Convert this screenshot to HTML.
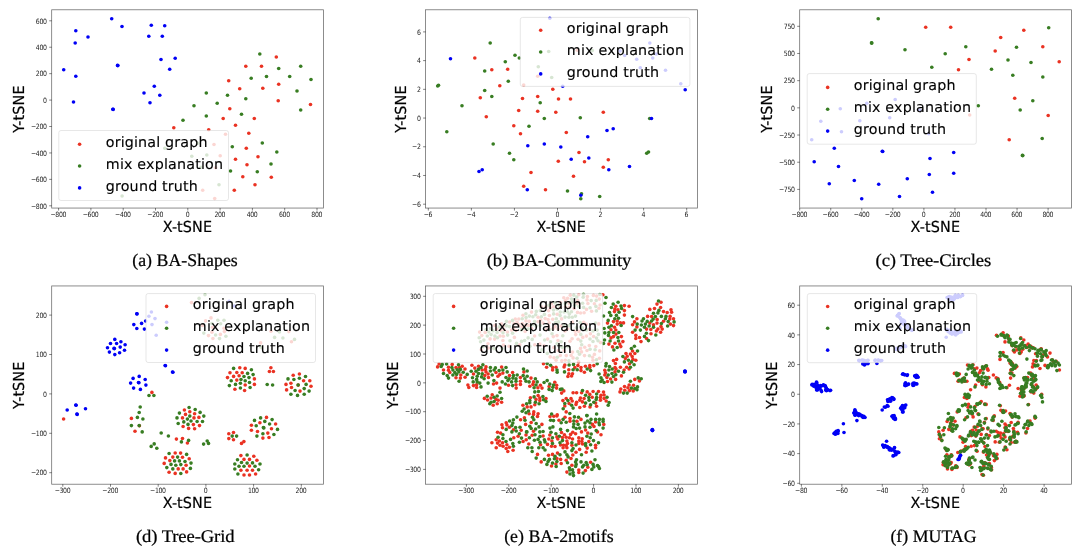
<!DOCTYPE html>
<html lang="en">
<head>
<meta charset="utf-8">
<title>t-SNE visualisation of graph explanations</title>
<style>
html,body{margin:0;padding:0;background:#fff;}
body{width:1080px;height:552px;overflow:hidden;}
svg{display:block;}
text{font-family:"DejaVu Sans","Liberation Sans",sans-serif;fill:#000;text-rendering:geometricPrecision;}
text.tick{fill:#222;letter-spacing:-27.5px;}
text.lab{letter-spacing:-5.00px;stroke:#000;stroke-width:10.00px;}
text.leg{stroke:#000;stroke-width:6.00px;}
text.cap{font-family:"Liberation Serif","DejaVu Serif",serif;fill:#000;stroke:#000;stroke-width:12.00px;}
</style>
</head>
<body>
<svg width="1080" height="552" viewBox="0 0 1080 552" role="img" aria-label="t-SNE scatter plots">
<defs><filter id="soft" filterUnits="userSpaceOnUse" x="0" y="0" width="1080" height="552"><feGaussianBlur stdDeviation="0.35"/></filter></defs>
<rect width="1080" height="552" fill="#fff"/>
<g class="panel" id="panel-a">
<g filter="url(#soft)">
<g fill="#EA3323">
<circle cx="276.3" cy="57.0" r="1.8"/><circle cx="245.8" cy="66.2" r="1.8"/><circle cx="261.5" cy="66.2" r="1.8"/><circle cx="228.7" cy="80.7" r="1.8"/><circle cx="278.7" cy="84.3" r="1.8"/><circle cx="239.7" cy="88.7" r="1.8"/><circle cx="262.8" cy="88.2" r="1.8"/><circle cx="278.2" cy="100.8" r="1.8"/><circle cx="310.5" cy="104.5" r="1.8"/><circle cx="229.8" cy="108.7" r="1.8"/><circle cx="223.2" cy="118.5" r="1.8"/><circle cx="254.3" cy="118.5" r="1.8"/><circle cx="235.5" cy="125.2" r="1.8"/><circle cx="173.8" cy="127.7" r="1.8"/><circle cx="208.7" cy="129.7" r="1.8"/><circle cx="248.8" cy="133.2" r="1.8"/><circle cx="225.5" cy="134.3" r="1.8"/><circle cx="214.0" cy="144.5" r="1.8"/><circle cx="246.3" cy="148.2" r="1.8"/><circle cx="220.2" cy="155.7" r="1.8"/><circle cx="258.0" cy="156.8" r="1.8"/><circle cx="235.5" cy="159.2" r="1.8"/><circle cx="247.0" cy="164.7" r="1.8"/><circle cx="215.7" cy="167.7" r="1.8"/><circle cx="242.8" cy="176.8" r="1.8"/><circle cx="271.3" cy="177.3" r="1.8"/><circle cx="255.0" cy="184.8" r="1.8"/><circle cx="234.3" cy="190.3" r="1.8"/><circle cx="202.7" cy="190.3" r="1.8"/><circle cx="214.7" cy="198.5" r="1.8"/>
</g>
<g fill="#377D22">
<circle cx="259.8" cy="54.0" r="1.8"/><circle cx="278.7" cy="68.5" r="1.8"/><circle cx="300.7" cy="66.2" r="1.8"/><circle cx="251.2" cy="78.3" r="1.8"/><circle cx="266.5" cy="76.5" r="1.8"/><circle cx="289.7" cy="76.5" r="1.8"/><circle cx="311.0" cy="79.5" r="1.8"/><circle cx="297.0" cy="91.0" r="1.8"/><circle cx="206.3" cy="93.0" r="1.8"/><circle cx="227.5" cy="95.3" r="1.8"/><circle cx="245.8" cy="98.8" r="1.8"/><circle cx="300.7" cy="110.0" r="1.8"/><circle cx="194.0" cy="105.7" r="1.8"/><circle cx="217.2" cy="103.2" r="1.8"/><circle cx="241.5" cy="114.2" r="1.8"/><circle cx="206.3" cy="116.0" r="1.8"/><circle cx="183.0" cy="120.3" r="1.8"/><circle cx="262.3" cy="143.0" r="1.8"/><circle cx="164.8" cy="148.2" r="1.8"/><circle cx="197.7" cy="143.3" r="1.8"/><circle cx="232.3" cy="146.7" r="1.8"/><circle cx="276.8" cy="152.0" r="1.8"/><circle cx="191.8" cy="156.2" r="1.8"/><circle cx="206.8" cy="155.0" r="1.8"/><circle cx="271.0" cy="164.0" r="1.8"/><circle cx="201.0" cy="167.3" r="1.8"/><circle cx="230.5" cy="171.0" r="1.8"/><circle cx="257.3" cy="171.8" r="1.8"/><circle cx="219.0" cy="184.8" r="1.8"/><circle cx="122.1" cy="196.0" r="1.8"/>
</g>
<g fill="#0000F5">
<circle cx="111.7" cy="18.7" r="1.8"/><circle cx="122.0" cy="26.5" r="1.8"/><circle cx="75.8" cy="30.8" r="1.8"/><circle cx="88.0" cy="37.0" r="1.8"/><circle cx="75.2" cy="43.0" r="1.8"/><circle cx="151.3" cy="25.3" r="1.8"/><circle cx="164.7" cy="25.8" r="1.8"/><circle cx="148.8" cy="36.3" r="1.8"/><circle cx="162.3" cy="36.3" r="1.8"/><circle cx="161.0" cy="59.5" r="1.8"/><circle cx="175.2" cy="58.2" r="1.8"/><circle cx="117.5" cy="65.4" r="1.8"/><circle cx="117.9" cy="65.6" r="1.8"/><circle cx="169.7" cy="69.2" r="1.8"/><circle cx="63.7" cy="69.8" r="1.8"/><circle cx="75.8" cy="76.3" r="1.8"/><circle cx="154.3" cy="86.2" r="1.8"/><circle cx="144.0" cy="93.0" r="1.8"/><circle cx="159.8" cy="95.3" r="1.8"/><circle cx="73.5" cy="102.0" r="1.8"/><circle cx="112.8" cy="109.2" r="1.8"/><circle cx="113.2" cy="109.4" r="1.8"/><circle cx="150.0" cy="102.7" r="1.8"/>
</g>
</g>
<rect x="51.7" y="9.8" width="271.80" height="198.25" fill="none" stroke="#000" stroke-opacity="0.6" stroke-width="0.75"/>
<path d="M58.6 208.05v2.5M90.9 208.05v2.5M123.2 208.05v2.5M155.5 208.05v2.5M187.8 208.05v2.5M220.1 208.05v2.5M252.4 208.05v2.5M284.7 208.05v2.5M317.0 208.05v2.5M51.7 205.8h-2.5M51.7 179.37h-2.5M51.7 152.94h-2.5M51.7 126.51h-2.5M51.7 100.09h-2.5M51.7 73.66h-2.5M51.7 47.23h-2.5M51.7 20.8h-2.5" stroke="#000" stroke-opacity="0.65" stroke-width="0.75" fill="none"/>
<text class="tick" transform="translate(58.27 217.20) scale(0.01700 0.02000)" text-anchor="middle" font-size="375.00">−800</text>
<text class="tick" transform="translate(90.57 217.20) scale(0.01700 0.02000)" text-anchor="middle" font-size="375.00">−600</text>
<text class="tick" transform="translate(122.87 217.20) scale(0.01700 0.02000)" text-anchor="middle" font-size="375.00">−400</text>
<text class="tick" transform="translate(155.17 217.20) scale(0.01700 0.02000)" text-anchor="middle" font-size="375.00">−200</text>
<text class="tick" transform="translate(187.47 217.20) scale(0.01700 0.02000)" text-anchor="middle" font-size="375.00">0</text>
<text class="tick" transform="translate(219.77 217.20) scale(0.01700 0.02000)" text-anchor="middle" font-size="375.00">200</text>
<text class="tick" transform="translate(252.07 217.20) scale(0.01700 0.02000)" text-anchor="middle" font-size="375.00">400</text>
<text class="tick" transform="translate(284.37 217.20) scale(0.01700 0.02000)" text-anchor="middle" font-size="375.00">600</text>
<text class="tick" transform="translate(316.67 217.20) scale(0.01700 0.02000)" text-anchor="middle" font-size="375.00">800</text>
<text class="tick" transform="translate(46.63 208.50) scale(0.01700 0.02000)" text-anchor="end" font-size="375.00">−800</text>
<text class="tick" transform="translate(46.63 182.07) scale(0.01700 0.02000)" text-anchor="end" font-size="375.00">−600</text>
<text class="tick" transform="translate(46.63 155.64) scale(0.01700 0.02000)" text-anchor="end" font-size="375.00">−400</text>
<text class="tick" transform="translate(46.63 129.21) scale(0.01700 0.02000)" text-anchor="end" font-size="375.00">−200</text>
<text class="tick" transform="translate(46.63 102.79) scale(0.01700 0.02000)" text-anchor="end" font-size="375.00">0</text>
<text class="tick" transform="translate(46.63 76.36) scale(0.01700 0.02000)" text-anchor="end" font-size="375.00">200</text>
<text class="tick" transform="translate(46.63 49.93) scale(0.01700 0.02000)" text-anchor="end" font-size="375.00">400</text>
<text class="tick" transform="translate(46.63 23.50) scale(0.01700 0.02000)" text-anchor="end" font-size="375.00">600</text>
<text class="lab" transform="translate(187.40 231.95) scale(0.01900 0.02000)" text-anchor="middle" font-size="775.00">X-tSNE</text>
<text class="lab" transform="translate(23.90 109.13) rotate(-90) scale(0.01900 0.02000)" text-anchor="middle" font-size="775.00">Y-tSNE</text>
<rect x="58.8" y="130.5" width="169.70" height="70.00" rx="2.2" fill="#fff" fill-opacity="0.8" stroke="#ccc" stroke-opacity="0.8" stroke-width="0.6"/>
<circle cx="79.60" cy="144.20" r="1.8" fill="#EA3323"/>
<text class="leg" transform="translate(105.70 147.15) scale(0.02000 0.02000)" font-size="731.00">original graph</text>
<circle cx="79.60" cy="166.05" r="1.8" fill="#377D22"/>
<text class="leg" transform="translate(105.70 169.00) scale(0.02000 0.02000)" font-size="731.00">mix explanation</text>
<circle cx="79.60" cy="187.90" r="1.8" fill="#0000F5"/>
<text class="leg" transform="translate(105.70 190.85) scale(0.02000 0.02000)" font-size="731.00">ground truth</text>
<text class="cap" transform="translate(132.20 265.50) scale(0.01962 0.02000)" font-size="910.00">(a) BA-Shapes</text>
</g>
<g class="panel" id="panel-b">
<g filter="url(#soft)">
<g fill="#EA3323">
<circle cx="474.8" cy="58.0" r="1.8"/><circle cx="577.3" cy="50.2" r="1.8"/><circle cx="491.8" cy="69.8" r="1.8"/><circle cx="507.7" cy="69.2" r="1.8"/><circle cx="537.7" cy="76.3" r="1.8"/><circle cx="499.8" cy="85.7" r="1.8"/><circle cx="523.7" cy="85.0" r="1.8"/><circle cx="552.8" cy="89.3" r="1.8"/><circle cx="480.3" cy="97.8" r="1.8"/><circle cx="522.5" cy="98.5" r="1.8"/><circle cx="537.7" cy="96.5" r="1.8"/><circle cx="558.5" cy="99.0" r="1.8"/><circle cx="570.5" cy="99.0" r="1.8"/><circle cx="518.7" cy="110.5" r="1.8"/><circle cx="537.7" cy="111.2" r="1.8"/><circle cx="555.8" cy="112.3" r="1.8"/><circle cx="603.3" cy="112.3" r="1.8"/><circle cx="486.3" cy="116.7" r="1.8"/><circle cx="513.8" cy="125.7" r="1.8"/><circle cx="520.5" cy="133.7" r="1.8"/><circle cx="566.3" cy="132.5" r="1.8"/><circle cx="579.0" cy="152.5" r="1.8"/><circle cx="558.3" cy="161.2" r="1.8"/><circle cx="584.5" cy="161.7" r="1.8"/><circle cx="603.3" cy="167.2" r="1.8"/><circle cx="531.0" cy="172.5" r="1.8"/><circle cx="573.5" cy="176.2" r="1.8"/><circle cx="608.3" cy="159.8" r="1.8"/><circle cx="523.7" cy="186.2" r="1.8"/><circle cx="545.5" cy="189.8" r="1.8"/>
</g>
<g fill="#377D22">
<circle cx="490.2" cy="43.0" r="1.8"/><circle cx="515.0" cy="55.2" r="1.8"/><circle cx="519.3" cy="58.0" r="1.8"/><circle cx="505.3" cy="61.7" r="1.8"/><circle cx="548.7" cy="51.5" r="1.8"/><circle cx="592.3" cy="50.5" r="1.8"/><circle cx="484.7" cy="71.0" r="1.8"/><circle cx="538.3" cy="66.7" r="1.8"/><circle cx="551.7" cy="77.5" r="1.8"/><circle cx="508.3" cy="81.3" r="1.8"/><circle cx="437.7" cy="86.0" r="1.8"/><circle cx="438.5" cy="85.3" r="1.8"/><circle cx="484.7" cy="90.5" r="1.8"/><circle cx="491.8" cy="96.5" r="1.8"/><circle cx="540.2" cy="102.7" r="1.8"/><circle cx="462.0" cy="105.7" r="1.8"/><circle cx="544.3" cy="118.5" r="1.8"/><circle cx="580.3" cy="117.8" r="1.8"/><circle cx="529.0" cy="126.3" r="1.8"/><circle cx="446.8" cy="131.8" r="1.8"/><circle cx="493.2" cy="144.0" r="1.8"/><circle cx="509.5" cy="153.2" r="1.8"/><circle cx="513.8" cy="159.8" r="1.8"/><circle cx="649.7" cy="118.5" r="1.8"/><circle cx="646.7" cy="153.2" r="1.8"/><circle cx="648.5" cy="152.0" r="1.8"/><circle cx="567.5" cy="191.0" r="1.8"/><circle cx="581.5" cy="193.8" r="1.8"/><circle cx="580.8" cy="198.8" r="1.8"/><circle cx="599.7" cy="196.5" r="1.8"/>
</g>
<g fill="#0000F5">
<circle cx="549.8" cy="18.3" r="1.8"/><circle cx="450.5" cy="58.7" r="1.8"/><circle cx="562.7" cy="86.3" r="1.8"/><circle cx="649.8" cy="43.0" r="1.8"/><circle cx="620.0" cy="51.0" r="1.8"/><circle cx="624.7" cy="55.5" r="1.8"/><circle cx="636.7" cy="59.3" r="1.8"/><circle cx="652.7" cy="58.0" r="1.8"/><circle cx="656.2" cy="54.0" r="1.8"/><circle cx="640.3" cy="67.7" r="1.8"/><circle cx="665.5" cy="70.3" r="1.8"/><circle cx="680.8" cy="83.7" r="1.8"/><circle cx="685.2" cy="89.8" r="1.8"/><circle cx="587.7" cy="136.8" r="1.8"/><circle cx="527.8" cy="145.8" r="1.8"/><circle cx="544.3" cy="144.0" r="1.8"/><circle cx="560.8" cy="147.0" r="1.8"/><circle cx="571.2" cy="159.2" r="1.8"/><circle cx="588.8" cy="158.0" r="1.8"/><circle cx="482.2" cy="169.7" r="1.8"/><circle cx="479.0" cy="171.5" r="1.8"/><circle cx="651.5" cy="118.5" r="1.8"/><circle cx="607.0" cy="130.5" r="1.8"/><circle cx="613.2" cy="128.8" r="1.8"/><circle cx="608.8" cy="169.7" r="1.8"/><circle cx="629.5" cy="166.5" r="1.8"/><circle cx="527.3" cy="189.8" r="1.8"/><circle cx="580.8" cy="195.3" r="1.8"/>
</g>
</g>
<rect x="425.6" y="9.8" width="271.80" height="198.25" fill="none" stroke="#000" stroke-opacity="0.6" stroke-width="0.75"/>
<path d="M428.3 208.05v2.5M471.37 208.05v2.5M514.43 208.05v2.5M557.5 208.05v2.5M600.57 208.05v2.5M643.63 208.05v2.5M686.7 208.05v2.5M425.6 204.2h-2.5M425.6 175.48h-2.5M425.6 146.77h-2.5M425.6 118.05h-2.5M425.6 89.33h-2.5M425.6 60.62h-2.5M425.6 31.9h-2.5" stroke="#000" stroke-opacity="0.65" stroke-width="0.75" fill="none"/>
<text class="tick" transform="translate(427.97 217.20) scale(0.01700 0.02000)" text-anchor="middle" font-size="375.00">−6</text>
<text class="tick" transform="translate(471.04 217.20) scale(0.01700 0.02000)" text-anchor="middle" font-size="375.00">−4</text>
<text class="tick" transform="translate(514.10 217.20) scale(0.01700 0.02000)" text-anchor="middle" font-size="375.00">−2</text>
<text class="tick" transform="translate(557.17 217.20) scale(0.01700 0.02000)" text-anchor="middle" font-size="375.00">0</text>
<text class="tick" transform="translate(600.24 217.20) scale(0.01700 0.02000)" text-anchor="middle" font-size="375.00">2</text>
<text class="tick" transform="translate(643.30 217.20) scale(0.01700 0.02000)" text-anchor="middle" font-size="375.00">4</text>
<text class="tick" transform="translate(686.37 217.20) scale(0.01700 0.02000)" text-anchor="middle" font-size="375.00">6</text>
<text class="tick" transform="translate(420.53 206.90) scale(0.01700 0.02000)" text-anchor="end" font-size="375.00">−6</text>
<text class="tick" transform="translate(420.53 178.18) scale(0.01700 0.02000)" text-anchor="end" font-size="375.00">−4</text>
<text class="tick" transform="translate(420.53 149.47) scale(0.01700 0.02000)" text-anchor="end" font-size="375.00">−2</text>
<text class="tick" transform="translate(420.53 120.75) scale(0.01700 0.02000)" text-anchor="end" font-size="375.00">0</text>
<text class="tick" transform="translate(420.53 92.03) scale(0.01700 0.02000)" text-anchor="end" font-size="375.00">2</text>
<text class="tick" transform="translate(420.53 63.32) scale(0.01700 0.02000)" text-anchor="end" font-size="375.00">4</text>
<text class="tick" transform="translate(420.53 34.60) scale(0.01700 0.02000)" text-anchor="end" font-size="375.00">6</text>
<text class="lab" transform="translate(561.30 231.95) scale(0.01900 0.02000)" text-anchor="middle" font-size="775.00">X-tSNE</text>
<text class="lab" transform="translate(405.90 109.13) rotate(-90) scale(0.01900 0.02000)" text-anchor="middle" font-size="775.00">Y-tSNE</text>
<rect x="520.3" y="17.4" width="169.60" height="69.00" rx="2.2" fill="#fff" fill-opacity="0.8" stroke="#ccc" stroke-opacity="0.8" stroke-width="0.6"/>
<circle cx="540.70" cy="30.20" r="1.8" fill="#EA3323"/>
<text class="leg" transform="translate(566.80 33.15) scale(0.02000 0.02000)" font-size="731.00">original graph</text>
<circle cx="540.70" cy="52.05" r="1.8" fill="#377D22"/>
<text class="leg" transform="translate(566.80 55.00) scale(0.02000 0.02000)" font-size="731.00">mix explanation</text>
<circle cx="540.70" cy="73.90" r="1.8" fill="#0000F5"/>
<text class="leg" transform="translate(566.80 76.85) scale(0.02000 0.02000)" font-size="731.00">ground truth</text>
<text class="cap" transform="translate(486.70 265.50) scale(0.02004 0.02000)" font-size="910.00">(b) BA-Community</text>
</g>
<g class="panel" id="panel-c">
<g filter="url(#soft)">
<g fill="#EA3323">
<circle cx="925.7" cy="27.2" r="1.8"/><circle cx="950.7" cy="27.2" r="1.8"/><circle cx="969.0" cy="59.5" r="1.8"/><circle cx="958.5" cy="69.8" r="1.8"/><circle cx="1023.8" cy="30.2" r="1.8"/><circle cx="1000.7" cy="37.5" r="1.8"/><circle cx="1042.8" cy="46.7" r="1.8"/><circle cx="995.2" cy="51.0" r="1.8"/><circle cx="1059.2" cy="61.8" r="1.8"/><circle cx="969.7" cy="115.0" r="1.8"/><circle cx="1014.7" cy="98.3" r="1.8"/><circle cx="1048.2" cy="115.5" r="1.8"/><circle cx="1009.2" cy="139.7" r="1.8"/>
</g>
<g fill="#377D22">
<circle cx="878.2" cy="18.7" r="1.8"/><circle cx="871.5" cy="42.9" r="1.8"/><circle cx="871.8" cy="43.1" r="1.8"/><circle cx="905.0" cy="49.7" r="1.8"/><circle cx="965.8" cy="46.7" r="1.8"/><circle cx="945.2" cy="53.8" r="1.8"/><circle cx="931.8" cy="67.3" r="1.8"/><circle cx="1048.7" cy="27.8" r="1.8"/><circle cx="1016.5" cy="47.3" r="1.8"/><circle cx="1008.0" cy="60.0" r="1.8"/><circle cx="1031.0" cy="62.5" r="1.8"/><circle cx="991.5" cy="69.2" r="1.8"/><circle cx="1012.8" cy="75.3" r="1.8"/><circle cx="1042.8" cy="77.0" r="1.8"/><circle cx="978.3" cy="105.8" r="1.8"/><circle cx="1032.8" cy="100.8" r="1.8"/><circle cx="1020.2" cy="110.0" r="1.8"/><circle cx="1042.2" cy="138.5" r="1.8"/><circle cx="1022.4" cy="155.4" r="1.8"/><circle cx="1022.8" cy="155.6" r="1.8"/>
</g>
<g fill="#0000F5">
<circle cx="895.2" cy="99.5" r="1.8"/><circle cx="866.8" cy="103.2" r="1.8"/><circle cx="840.3" cy="108.7" r="1.8"/><circle cx="919.7" cy="110.0" r="1.8"/><circle cx="820.8" cy="121.3" r="1.8"/><circle cx="859.8" cy="120.8" r="1.8"/><circle cx="889.7" cy="117.8" r="1.8"/><circle cx="841.5" cy="131.8" r="1.8"/><circle cx="928.8" cy="133.7" r="1.8"/><circle cx="811.7" cy="139.7" r="1.8"/><circle cx="834.3" cy="148.3" r="1.8"/><circle cx="882.3" cy="151.2" r="1.8"/><circle cx="882.7" cy="151.5" r="1.8"/><circle cx="953.7" cy="152.5" r="1.8"/><circle cx="930.0" cy="158.5" r="1.8"/><circle cx="814.2" cy="161.7" r="1.8"/><circle cx="838.5" cy="166.5" r="1.8"/><circle cx="929.3" cy="174.5" r="1.8"/><circle cx="953.7" cy="173.2" r="1.8"/><circle cx="907.3" cy="178.7" r="1.8"/><circle cx="854.3" cy="180.5" r="1.8"/><circle cx="829.3" cy="183.7" r="1.8"/><circle cx="878.7" cy="184.2" r="1.8"/><circle cx="861.7" cy="198.8" r="1.8"/><circle cx="899.5" cy="196.5" r="1.8"/><circle cx="932.5" cy="192.2" r="1.8"/>
</g>
</g>
<rect x="799.7" y="9.8" width="271.70" height="198.25" fill="none" stroke="#000" stroke-opacity="0.6" stroke-width="0.75"/>
<path d="M799.7 208.05v2.5M830.75 208.05v2.5M861.8 208.05v2.5M892.85 208.05v2.5M923.9 208.05v2.5M954.95 208.05v2.5M986.0 208.05v2.5M1017.05 208.05v2.5M1048.1 208.05v2.5M799.7 189.4h-2.5M799.7 162.22h-2.5M799.7 135.03h-2.5M799.7 107.85h-2.5M799.7 80.67h-2.5M799.7 53.48h-2.5M799.7 26.3h-2.5" stroke="#000" stroke-opacity="0.65" stroke-width="0.75" fill="none"/>
<text class="tick" transform="translate(799.37 217.20) scale(0.01700 0.02000)" text-anchor="middle" font-size="375.00">−800</text>
<text class="tick" transform="translate(830.42 217.20) scale(0.01700 0.02000)" text-anchor="middle" font-size="375.00">−600</text>
<text class="tick" transform="translate(861.47 217.20) scale(0.01700 0.02000)" text-anchor="middle" font-size="375.00">−400</text>
<text class="tick" transform="translate(892.52 217.20) scale(0.01700 0.02000)" text-anchor="middle" font-size="375.00">−200</text>
<text class="tick" transform="translate(923.57 217.20) scale(0.01700 0.02000)" text-anchor="middle" font-size="375.00">0</text>
<text class="tick" transform="translate(954.62 217.20) scale(0.01700 0.02000)" text-anchor="middle" font-size="375.00">200</text>
<text class="tick" transform="translate(985.67 217.20) scale(0.01700 0.02000)" text-anchor="middle" font-size="375.00">400</text>
<text class="tick" transform="translate(1016.72 217.20) scale(0.01700 0.02000)" text-anchor="middle" font-size="375.00">600</text>
<text class="tick" transform="translate(1047.77 217.20) scale(0.01700 0.02000)" text-anchor="middle" font-size="375.00">800</text>
<text class="tick" transform="translate(794.63 192.10) scale(0.01700 0.02000)" text-anchor="end" font-size="375.00">−750</text>
<text class="tick" transform="translate(794.63 164.92) scale(0.01700 0.02000)" text-anchor="end" font-size="375.00">−500</text>
<text class="tick" transform="translate(794.63 137.73) scale(0.01700 0.02000)" text-anchor="end" font-size="375.00">−250</text>
<text class="tick" transform="translate(794.63 110.55) scale(0.01700 0.02000)" text-anchor="end" font-size="375.00">0</text>
<text class="tick" transform="translate(794.63 83.37) scale(0.01700 0.02000)" text-anchor="end" font-size="375.00">250</text>
<text class="tick" transform="translate(794.63 56.18) scale(0.01700 0.02000)" text-anchor="end" font-size="375.00">500</text>
<text class="tick" transform="translate(794.63 29.00) scale(0.01700 0.02000)" text-anchor="end" font-size="375.00">750</text>
<text class="lab" transform="translate(935.35 231.95) scale(0.01900 0.02000)" text-anchor="middle" font-size="775.00">X-tSNE</text>
<text class="lab" transform="translate(772.20 109.13) rotate(-90) scale(0.01900 0.02000)" text-anchor="middle" font-size="775.00">Y-tSNE</text>
<rect x="807.2" y="73.6" width="169.10" height="70.60" rx="2.2" fill="#fff" fill-opacity="0.8" stroke="#ccc" stroke-opacity="0.8" stroke-width="0.6"/>
<circle cx="827.67" cy="87.40" r="1.8" fill="#EA3323"/>
<text class="leg" transform="translate(853.77 90.35) scale(0.02000 0.02000)" font-size="731.00">original graph</text>
<circle cx="827.67" cy="109.25" r="1.8" fill="#377D22"/>
<text class="leg" transform="translate(853.77 112.20) scale(0.02000 0.02000)" font-size="731.00">mix explanation</text>
<circle cx="827.67" cy="131.10" r="1.8" fill="#0000F5"/>
<text class="leg" transform="translate(853.77 134.05) scale(0.02000 0.02000)" font-size="731.00">ground truth</text>
<text class="cap" transform="translate(875.60 265.50) scale(0.02012 0.02000)" font-size="910.00">(c) Tree-Circles</text>
</g>
<g class="panel" id="panel-d">
<g filter="url(#soft)">
<g fill="#EA3323">
<circle cx="151.9" cy="392.4" r="1.8"/><circle cx="63.6" cy="419.0" r="1.8"/><circle cx="131.4" cy="418.4" r="1.8"/><circle cx="139.4" cy="425.8" r="1.8"/><circle cx="191.5" cy="302.6" r="1.8"/><circle cx="211.0" cy="317.9" r="1.8"/><circle cx="205.6" cy="320.9" r="1.8"/><circle cx="202.5" cy="325.5" r="1.8"/><circle cx="212.5" cy="327.2" r="1.8"/><circle cx="224.0" cy="328.2" r="1.8"/><circle cx="211.9" cy="332.2" r="1.8"/><circle cx="224.4" cy="331.6" r="1.8"/><circle cx="208.5" cy="335.6" r="1.8"/><circle cx="220.4" cy="334.4" r="1.8"/><circle cx="212.9" cy="338.5" r="1.8"/><circle cx="271.0" cy="331.2" r="1.8"/><circle cx="288.8" cy="331.6" r="1.8"/><circle cx="291.5" cy="341.8" r="1.8"/><circle cx="260.6" cy="342.9" r="1.8"/><circle cx="239.8" cy="367.8" r="1.8"/><circle cx="245.2" cy="368.4" r="1.8"/><circle cx="230.0" cy="372.8" r="1.8"/><circle cx="236.8" cy="372.5" r="1.8"/><circle cx="242.2" cy="372.8" r="1.8"/><circle cx="233.6" cy="376.4" r="1.8"/><circle cx="239.1" cy="375.8" r="1.8"/><circle cx="227.5" cy="377.6" r="1.8"/><circle cx="254.4" cy="378.9" r="1.8"/><circle cx="236.8" cy="380.1" r="1.8"/><circle cx="245.2" cy="385.0" r="1.8"/><circle cx="254.4" cy="384.4" r="1.8"/><circle cx="234.9" cy="389.2" r="1.8"/><circle cx="244.6" cy="390.5" r="1.8"/><circle cx="270.9" cy="367.8" r="1.8"/><circle cx="269.4" cy="371.5" r="1.8"/><circle cx="273.4" cy="371.5" r="1.8"/><circle cx="299.4" cy="374.0" r="1.8"/><circle cx="293.2" cy="375.2" r="1.8"/><circle cx="303.6" cy="380.8" r="1.8"/><circle cx="309.8" cy="380.8" r="1.8"/><circle cx="286.0" cy="384.4" r="1.8"/><circle cx="290.9" cy="383.2" r="1.8"/><circle cx="298.2" cy="385.1" r="1.8"/><circle cx="311.0" cy="386.2" r="1.8"/><circle cx="291.5" cy="387.5" r="1.8"/><circle cx="286.6" cy="389.9" r="1.8"/><circle cx="300.0" cy="391.1" r="1.8"/><circle cx="184.4" cy="410.0" r="1.8"/><circle cx="189.8" cy="411.8" r="1.8"/><circle cx="185.5" cy="414.4" r="1.8"/><circle cx="194.6" cy="413.8" r="1.8"/><circle cx="182.5" cy="417.9" r="1.8"/><circle cx="194.0" cy="417.9" r="1.8"/><circle cx="198.9" cy="417.4" r="1.8"/><circle cx="193.4" cy="424.6" r="1.8"/><circle cx="183.1" cy="426.5" r="1.8"/><circle cx="199.5" cy="425.6" r="1.8"/><circle cx="188.6" cy="428.4" r="1.8"/><circle cx="194.6" cy="428.8" r="1.8"/><circle cx="266.5" cy="417.4" r="1.8"/><circle cx="259.9" cy="422.8" r="1.8"/><circle cx="275.6" cy="424.0" r="1.8"/><circle cx="251.4" cy="425.2" r="1.8"/><circle cx="271.5" cy="428.8" r="1.8"/><circle cx="251.4" cy="430.2" r="1.8"/><circle cx="257.5" cy="431.5" r="1.8"/><circle cx="267.8" cy="433.1" r="1.8"/><circle cx="262.9" cy="438.1" r="1.8"/><circle cx="269.0" cy="437.5" r="1.8"/><circle cx="233.5" cy="432.5" r="1.8"/><circle cx="228.8" cy="433.8" r="1.8"/><circle cx="228.8" cy="438.6" r="1.8"/><circle cx="233.5" cy="439.8" r="1.8"/><circle cx="243.9" cy="441.6" r="1.8"/><circle cx="241.5" cy="443.4" r="1.8"/><circle cx="176.4" cy="439.1" r="1.8"/><circle cx="182.5" cy="438.5" r="1.8"/><circle cx="187.4" cy="443.0" r="1.8"/><circle cx="175.2" cy="453.0" r="1.8"/><circle cx="180.6" cy="453.1" r="1.8"/><circle cx="165.5" cy="457.9" r="1.8"/><circle cx="172.8" cy="457.1" r="1.8"/><circle cx="182.5" cy="457.2" r="1.8"/><circle cx="189.2" cy="458.8" r="1.8"/><circle cx="169.8" cy="460.6" r="1.8"/><circle cx="164.2" cy="463.4" r="1.8"/><circle cx="186.1" cy="465.2" r="1.8"/><circle cx="178.2" cy="468.9" r="1.8"/><circle cx="183.1" cy="468.9" r="1.8"/><circle cx="169.1" cy="472.2" r="1.8"/><circle cx="175.2" cy="473.4" r="1.8"/><circle cx="186.6" cy="471.9" r="1.8"/><circle cx="240.9" cy="455.6" r="1.8"/><circle cx="253.8" cy="456.2" r="1.8"/><circle cx="244.0" cy="459.4" r="1.8"/><circle cx="249.5" cy="459.4" r="1.8"/><circle cx="256.9" cy="460.2" r="1.8"/><circle cx="249.5" cy="466.0" r="1.8"/><circle cx="240.9" cy="470.2" r="1.8"/><circle cx="247.1" cy="470.2" r="1.8"/><circle cx="252.5" cy="470.2" r="1.8"/><circle cx="244.0" cy="475.0" r="1.8"/><circle cx="249.5" cy="475.0" r="1.8"/><circle cx="255.6" cy="474.0" r="1.8"/><circle cx="135.0" cy="431.2" r="1.8"/>
</g>
<g fill="#377D22">
<circle cx="149.0" cy="395.5" r="1.8"/><circle cx="153.9" cy="395.5" r="1.8"/><circle cx="140.2" cy="407.0" r="1.8"/><circle cx="139.2" cy="412.5" r="1.8"/><circle cx="137.4" cy="417.4" r="1.8"/><circle cx="142.9" cy="419.0" r="1.8"/><circle cx="131.4" cy="425.6" r="1.8"/><circle cx="139.2" cy="425.6" r="1.8"/><circle cx="205.0" cy="294.8" r="1.8"/><circle cx="199.1" cy="298.4" r="1.8"/><circle cx="217.8" cy="320.2" r="1.8"/><circle cx="224.0" cy="320.2" r="1.8"/><circle cx="211.9" cy="323.5" r="1.8"/><circle cx="220.6" cy="323.8" r="1.8"/><circle cx="203.8" cy="333.1" r="1.8"/><circle cx="215.6" cy="335.0" r="1.8"/><circle cx="225.9" cy="336.2" r="1.8"/><circle cx="219.5" cy="338.6" r="1.8"/><circle cx="279.4" cy="332.0" r="1.8"/><circle cx="274.6" cy="337.4" r="1.8"/><circle cx="282.9" cy="338.0" r="1.8"/><circle cx="294.5" cy="339.4" r="1.8"/><circle cx="261.0" cy="347.2" r="1.8"/><circle cx="233.6" cy="368.4" r="1.8"/><circle cx="251.4" cy="369.8" r="1.8"/><circle cx="247.6" cy="373.4" r="1.8"/><circle cx="253.1" cy="374.6" r="1.8"/><circle cx="244.0" cy="376.5" r="1.8"/><circle cx="249.0" cy="377.6" r="1.8"/><circle cx="231.2" cy="380.8" r="1.8"/><circle cx="241.0" cy="379.5" r="1.8"/><circle cx="245.2" cy="380.8" r="1.8"/><circle cx="249.5" cy="382.5" r="1.8"/><circle cx="235.5" cy="384.4" r="1.8"/><circle cx="240.4" cy="383.2" r="1.8"/><circle cx="229.4" cy="385.6" r="1.8"/><circle cx="240.4" cy="388.0" r="1.8"/><circle cx="250.1" cy="387.5" r="1.8"/><circle cx="267.2" cy="384.5" r="1.8"/><circle cx="272.6" cy="385.0" r="1.8"/><circle cx="305.5" cy="376.5" r="1.8"/><circle cx="288.0" cy="378.9" r="1.8"/><circle cx="293.9" cy="379.5" r="1.8"/><circle cx="299.4" cy="378.2" r="1.8"/><circle cx="298.1" cy="385.0" r="1.8"/><circle cx="306.1" cy="384.4" r="1.8"/><circle cx="304.2" cy="388.6" r="1.8"/><circle cx="295.1" cy="390.5" r="1.8"/><circle cx="309.1" cy="391.1" r="1.8"/><circle cx="290.9" cy="394.2" r="1.8"/><circle cx="297.5" cy="395.4" r="1.8"/><circle cx="304.2" cy="394.2" r="1.8"/><circle cx="189.1" cy="407.5" r="1.8"/><circle cx="195.2" cy="409.5" r="1.8"/><circle cx="179.4" cy="413.1" r="1.8"/><circle cx="200.1" cy="412.4" r="1.8"/><circle cx="189.8" cy="416.1" r="1.8"/><circle cx="203.8" cy="416.1" r="1.8"/><circle cx="177.0" cy="417.9" r="1.8"/><circle cx="187.4" cy="419.1" r="1.8"/><circle cx="183.8" cy="421.9" r="1.8"/><circle cx="191.0" cy="421.0" r="1.8"/><circle cx="197.1" cy="421.5" r="1.8"/><circle cx="202.5" cy="421.5" r="1.8"/><circle cx="178.2" cy="423.5" r="1.8"/><circle cx="188.0" cy="424.4" r="1.8"/><circle cx="260.6" cy="417.9" r="1.8"/><circle cx="272.1" cy="419.6" r="1.8"/><circle cx="254.5" cy="420.4" r="1.8"/><circle cx="264.8" cy="421.4" r="1.8"/><circle cx="269.6" cy="424.0" r="1.8"/><circle cx="256.2" cy="425.8" r="1.8"/><circle cx="263.4" cy="427.6" r="1.8"/><circle cx="263.8" cy="427.9" r="1.8"/><circle cx="277.5" cy="429.4" r="1.8"/><circle cx="262.9" cy="433.8" r="1.8"/><circle cx="273.9" cy="434.5" r="1.8"/><circle cx="256.9" cy="436.1" r="1.8"/><circle cx="232.2" cy="436.1" r="1.8"/><circle cx="236.6" cy="436.1" r="1.8"/><circle cx="161.2" cy="433.0" r="1.8"/><circle cx="168.4" cy="436.0" r="1.8"/><circle cx="188.6" cy="440.4" r="1.8"/><circle cx="181.4" cy="441.9" r="1.8"/><circle cx="207.2" cy="441.0" r="1.8"/><circle cx="208.5" cy="443.4" r="1.8"/><circle cx="203.6" cy="444.1" r="1.8"/><circle cx="169.1" cy="453.5" r="1.8"/><circle cx="186.6" cy="454.4" r="1.8"/><circle cx="177.6" cy="457.1" r="1.8"/><circle cx="174.6" cy="460.9" r="1.8"/><circle cx="179.4" cy="460.9" r="1.8"/><circle cx="185.0" cy="461.5" r="1.8"/><circle cx="191.0" cy="463.1" r="1.8"/><circle cx="171.0" cy="464.4" r="1.8"/><circle cx="175.8" cy="465.2" r="1.8"/><circle cx="180.8" cy="464.6" r="1.8"/><circle cx="166.8" cy="467.6" r="1.8"/><circle cx="172.8" cy="468.9" r="1.8"/><circle cx="190.4" cy="468.4" r="1.8"/><circle cx="180.8" cy="473.5" r="1.8"/><circle cx="247.1" cy="455.0" r="1.8"/><circle cx="237.5" cy="459.8" r="1.8"/><circle cx="234.8" cy="464.0" r="1.8"/><circle cx="241.5" cy="462.5" r="1.8"/><circle cx="247.1" cy="463.1" r="1.8"/><circle cx="252.5" cy="462.9" r="1.8"/><circle cx="260.0" cy="464.0" r="1.8"/><circle cx="239.0" cy="466.2" r="1.8"/><circle cx="244.0" cy="466.2" r="1.8"/><circle cx="255.0" cy="466.2" r="1.8"/><circle cx="234.8" cy="469.0" r="1.8"/><circle cx="258.6" cy="469.8" r="1.8"/><circle cx="237.9" cy="474.0" r="1.8"/><circle cx="142.2" cy="431.9" r="1.8"/><circle cx="154.2" cy="443.9" r="1.8"/><circle cx="151.2" cy="446.4" r="1.8"/><circle cx="156.8" cy="448.2" r="1.8"/>
</g>
<g fill="#0000F5">
<circle cx="136.8" cy="313.8" r="1.8"/><circle cx="137.0" cy="313.9" r="1.8"/><circle cx="133.8" cy="324.6" r="1.8"/><circle cx="141.6" cy="323.4" r="1.8"/><circle cx="145.6" cy="321.0" r="1.8"/><circle cx="136.8" cy="328.5" r="1.8"/><circle cx="144.4" cy="329.1" r="1.8"/><circle cx="151.4" cy="312.0" r="1.8"/><circle cx="148.9" cy="316.2" r="1.8"/><circle cx="155.0" cy="318.6" r="1.8"/><circle cx="152.0" cy="324.6" r="1.8"/><circle cx="166.6" cy="322.2" r="1.8"/><circle cx="156.2" cy="335.2" r="1.8"/><circle cx="114.8" cy="339.4" r="1.8"/><circle cx="110.5" cy="343.5" r="1.8"/><circle cx="116.6" cy="343.5" r="1.8"/><circle cx="120.9" cy="341.8" r="1.8"/><circle cx="107.5" cy="347.8" r="1.8"/><circle cx="114.0" cy="348.4" r="1.8"/><circle cx="114.4" cy="348.6" r="1.8"/><circle cx="120.2" cy="347.1" r="1.8"/><circle cx="125.1" cy="344.8" r="1.8"/><circle cx="109.4" cy="352.1" r="1.8"/><circle cx="114.8" cy="354.6" r="1.8"/><circle cx="119.6" cy="352.8" r="1.8"/><circle cx="124.5" cy="350.2" r="1.8"/><circle cx="165.1" cy="365.5" r="1.8"/><circle cx="165.5" cy="365.8" r="1.8"/><circle cx="172.5" cy="372.0" r="1.8"/><circle cx="172.9" cy="372.2" r="1.8"/><circle cx="133.1" cy="378.4" r="1.8"/><circle cx="139.2" cy="376.4" r="1.8"/><circle cx="145.2" cy="379.5" r="1.8"/><circle cx="130.6" cy="383.1" r="1.8"/><circle cx="138.5" cy="382.5" r="1.8"/><circle cx="138.9" cy="382.8" r="1.8"/><circle cx="145.9" cy="385.1" r="1.8"/><circle cx="133.6" cy="388.1" r="1.8"/><circle cx="140.4" cy="389.4" r="1.8"/><circle cx="75.8" cy="405.0" r="1.8"/><circle cx="76.1" cy="405.2" r="1.8"/><circle cx="67.2" cy="410.0" r="1.8"/><circle cx="85.5" cy="408.8" r="1.8"/><circle cx="76.9" cy="414.1" r="1.8"/><circle cx="77.2" cy="414.4" r="1.8"/><circle cx="229.1" cy="301.2" r="1.8"/><circle cx="234.4" cy="306.0" r="1.8"/>
</g>
</g>
<rect x="51.7" y="285.95" width="271.80" height="198.25" fill="none" stroke="#000" stroke-opacity="0.6" stroke-width="0.75"/>
<path d="M62.8 484.2v2.5M110.5 484.2v2.5M158.2 484.2v2.5M205.9 484.2v2.5M253.6 484.2v2.5M301.3 484.2v2.5M51.7 472.7h-2.5M51.7 433.3h-2.5M51.7 393.9h-2.5M51.7 354.5h-2.5M51.7 315.1h-2.5" stroke="#000" stroke-opacity="0.65" stroke-width="0.75" fill="none"/>
<text class="tick" transform="translate(62.47 493.35) scale(0.01700 0.02000)" text-anchor="middle" font-size="375.00">−300</text>
<text class="tick" transform="translate(110.17 493.35) scale(0.01700 0.02000)" text-anchor="middle" font-size="375.00">−200</text>
<text class="tick" transform="translate(157.87 493.35) scale(0.01700 0.02000)" text-anchor="middle" font-size="375.00">−100</text>
<text class="tick" transform="translate(205.57 493.35) scale(0.01700 0.02000)" text-anchor="middle" font-size="375.00">0</text>
<text class="tick" transform="translate(253.27 493.35) scale(0.01700 0.02000)" text-anchor="middle" font-size="375.00">100</text>
<text class="tick" transform="translate(300.97 493.35) scale(0.01700 0.02000)" text-anchor="middle" font-size="375.00">200</text>
<text class="tick" transform="translate(46.63 475.40) scale(0.01700 0.02000)" text-anchor="end" font-size="375.00">−200</text>
<text class="tick" transform="translate(46.63 436.00) scale(0.01700 0.02000)" text-anchor="end" font-size="375.00">−100</text>
<text class="tick" transform="translate(46.63 396.60) scale(0.01700 0.02000)" text-anchor="end" font-size="375.00">0</text>
<text class="tick" transform="translate(46.63 357.20) scale(0.01700 0.02000)" text-anchor="end" font-size="375.00">100</text>
<text class="tick" transform="translate(46.63 317.80) scale(0.01700 0.02000)" text-anchor="end" font-size="375.00">200</text>
<text class="lab" transform="translate(187.40 508.10) scale(0.01900 0.02000)" text-anchor="middle" font-size="775.00">X-tSNE</text>
<text class="lab" transform="translate(23.90 385.27) rotate(-90) scale(0.01900 0.02000)" text-anchor="middle" font-size="775.00">Y-tSNE</text>
<rect x="146.0" y="293.55" width="169.50" height="68.95" rx="2.2" fill="#fff" fill-opacity="0.8" stroke="#ccc" stroke-opacity="0.8" stroke-width="0.6"/>
<circle cx="166.60" cy="306.40" r="1.8" fill="#EA3323"/>
<text class="leg" transform="translate(192.70 309.35) scale(0.02000 0.02000)" font-size="731.00">original graph</text>
<circle cx="166.60" cy="328.25" r="1.8" fill="#377D22"/>
<text class="leg" transform="translate(192.70 331.20) scale(0.02000 0.02000)" font-size="731.00">mix explanation</text>
<circle cx="166.60" cy="350.10" r="1.8" fill="#0000F5"/>
<text class="leg" transform="translate(192.70 353.05) scale(0.02000 0.02000)" font-size="731.00">ground truth</text>
<text class="cap" transform="translate(135.95 542.30) scale(0.02019 0.02000)" font-size="910.00">(d) Tree-Grid</text>
</g>
<g class="panel" id="panel-e">
<g filter="url(#soft)">
<g fill="#EA3323">
<circle cx="602.9" cy="294.8" r="1.8"/><circle cx="615.8" cy="306.2" r="1.8"/><circle cx="624.4" cy="305.6" r="1.8"/><circle cx="629.1" cy="306.2" r="1.8"/><circle cx="614.8" cy="309.1" r="1.8"/><circle cx="617.9" cy="309.8" r="1.8"/><circle cx="624.4" cy="310.6" r="1.8"/><circle cx="614.5" cy="311.6" r="1.8"/><circle cx="624.4" cy="315.1" r="1.8"/><circle cx="613.5" cy="321.6" r="1.8"/><circle cx="617.2" cy="321.0" r="1.8"/><circle cx="620.4" cy="322.9" r="1.8"/><circle cx="623.5" cy="322.9" r="1.8"/><circle cx="607.5" cy="323.1" r="1.8"/><circle cx="617.2" cy="324.1" r="1.8"/><circle cx="614.5" cy="327.2" r="1.8"/><circle cx="611.0" cy="329.8" r="1.8"/><circle cx="615.8" cy="330.0" r="1.8"/><circle cx="616.0" cy="334.1" r="1.8"/><circle cx="613.5" cy="336.6" r="1.8"/><circle cx="621.4" cy="336.6" r="1.8"/><circle cx="611.0" cy="337.9" r="1.8"/><circle cx="622.9" cy="341.6" r="1.8"/><circle cx="608.9" cy="344.1" r="1.8"/><circle cx="615.0" cy="343.2" r="1.8"/><circle cx="619.8" cy="344.1" r="1.8"/><circle cx="612.5" cy="346.9" r="1.8"/><circle cx="620.8" cy="346.6" r="1.8"/><circle cx="661.0" cy="302.2" r="1.8"/><circle cx="657.0" cy="304.1" r="1.8"/><circle cx="660.6" cy="307.5" r="1.8"/><circle cx="654.5" cy="308.5" r="1.8"/><circle cx="649.8" cy="309.4" r="1.8"/><circle cx="671.0" cy="309.8" r="1.8"/><circle cx="663.5" cy="311.6" r="1.8"/><circle cx="667.2" cy="312.5" r="1.8"/><circle cx="671.6" cy="312.2" r="1.8"/><circle cx="647.6" cy="316.4" r="1.8"/><circle cx="651.6" cy="316.6" r="1.8"/><circle cx="670.1" cy="316.4" r="1.8"/><circle cx="636.9" cy="318.8" r="1.8"/><circle cx="657.2" cy="319.5" r="1.8"/><circle cx="673.5" cy="318.8" r="1.8"/><circle cx="669.8" cy="319.1" r="1.8"/><circle cx="634.5" cy="321.9" r="1.8"/><circle cx="649.8" cy="323.1" r="1.8"/><circle cx="657.0" cy="323.1" r="1.8"/><circle cx="663.5" cy="321.2" r="1.8"/><circle cx="632.6" cy="324.8" r="1.8"/><circle cx="653.5" cy="324.8" r="1.8"/><circle cx="670.4" cy="324.1" r="1.8"/><circle cx="673.5" cy="325.6" r="1.8"/><circle cx="636.9" cy="326.9" r="1.8"/><circle cx="661.0" cy="326.6" r="1.8"/><circle cx="646.6" cy="329.1" r="1.8"/><circle cx="650.8" cy="329.5" r="1.8"/><circle cx="657.9" cy="329.1" r="1.8"/><circle cx="662.2" cy="329.1" r="1.8"/><circle cx="656.4" cy="331.0" r="1.8"/><circle cx="660.6" cy="332.2" r="1.8"/><circle cx="632.6" cy="332.2" r="1.8"/><circle cx="651.0" cy="333.8" r="1.8"/><circle cx="635.8" cy="335.4" r="1.8"/><circle cx="635.8" cy="338.5" r="1.8"/><circle cx="639.5" cy="337.5" r="1.8"/><circle cx="646.6" cy="338.5" r="1.8"/><circle cx="641.0" cy="341.6" r="1.8"/><circle cx="632.5" cy="351.0" r="1.8"/><circle cx="626.0" cy="353.5" r="1.8"/><circle cx="630.4" cy="354.1" r="1.8"/><circle cx="634.8" cy="353.5" r="1.8"/><circle cx="439.1" cy="364.0" r="1.8"/><circle cx="452.2" cy="364.4" r="1.8"/><circle cx="437.6" cy="366.9" r="1.8"/><circle cx="448.5" cy="367.2" r="1.8"/><circle cx="456.0" cy="367.5" r="1.8"/><circle cx="462.2" cy="366.2" r="1.8"/><circle cx="459.5" cy="367.5" r="1.8"/><circle cx="443.5" cy="370.0" r="1.8"/><circle cx="448.5" cy="370.2" r="1.8"/><circle cx="465.0" cy="369.0" r="1.8"/><circle cx="449.8" cy="372.5" r="1.8"/><circle cx="460.8" cy="375.0" r="1.8"/><circle cx="456.0" cy="377.8" r="1.8"/><circle cx="460.4" cy="378.1" r="1.8"/><circle cx="465.1" cy="377.2" r="1.8"/><circle cx="471.9" cy="365.2" r="1.8"/><circle cx="478.5" cy="366.2" r="1.8"/><circle cx="486.0" cy="366.9" r="1.8"/><circle cx="474.8" cy="368.1" r="1.8"/><circle cx="482.2" cy="370.0" r="1.8"/><circle cx="485.4" cy="369.4" r="1.8"/><circle cx="486.0" cy="371.9" r="1.8"/><circle cx="473.5" cy="374.0" r="1.8"/><circle cx="488.1" cy="374.0" r="1.8"/><circle cx="484.8" cy="375.6" r="1.8"/><circle cx="488.5" cy="377.5" r="1.8"/><circle cx="493.5" cy="384.0" r="1.8"/><circle cx="496.6" cy="383.1" r="1.8"/><circle cx="467.9" cy="385.0" r="1.8"/><circle cx="473.5" cy="385.6" r="1.8"/><circle cx="476.6" cy="384.8" r="1.8"/><circle cx="468.8" cy="387.5" r="1.8"/><circle cx="476.6" cy="387.5" r="1.8"/><circle cx="501.6" cy="367.1" r="1.8"/><circle cx="496.0" cy="372.5" r="1.8"/><circle cx="499.8" cy="374.4" r="1.8"/><circle cx="502.9" cy="373.1" r="1.8"/><circle cx="512.6" cy="372.5" r="1.8"/><circle cx="497.9" cy="376.2" r="1.8"/><circle cx="509.5" cy="375.6" r="1.8"/><circle cx="520.4" cy="377.5" r="1.8"/><circle cx="520.4" cy="381.2" r="1.8"/><circle cx="508.5" cy="385.2" r="1.8"/><circle cx="516.0" cy="384.8" r="1.8"/><circle cx="520.4" cy="384.4" r="1.8"/><circle cx="516.2" cy="388.1" r="1.8"/><circle cx="523.9" cy="371.9" r="1.8"/><circle cx="531.0" cy="378.1" r="1.8"/><circle cx="533.5" cy="381.9" r="1.8"/><circle cx="532.9" cy="384.4" r="1.8"/><circle cx="529.8" cy="386.2" r="1.8"/><circle cx="537.9" cy="387.8" r="1.8"/><circle cx="540.4" cy="385.2" r="1.8"/><circle cx="542.0" cy="388.1" r="1.8"/><circle cx="543.5" cy="363.8" r="1.8"/><circle cx="546.6" cy="367.2" r="1.8"/><circle cx="552.6" cy="367.5" r="1.8"/><circle cx="556.0" cy="367.2" r="1.8"/><circle cx="552.6" cy="370.0" r="1.8"/><circle cx="554.8" cy="382.2" r="1.8"/><circle cx="556.6" cy="385.2" r="1.8"/><circle cx="549.1" cy="386.5" r="1.8"/><circle cx="556.6" cy="388.1" r="1.8"/><circle cx="500.0" cy="388.1" r="1.8"/><circle cx="492.2" cy="394.8" r="1.8"/><circle cx="484.4" cy="398.4" r="1.8"/><circle cx="491.0" cy="398.1" r="1.8"/><circle cx="487.6" cy="400.0" r="1.8"/><circle cx="496.0" cy="399.4" r="1.8"/><circle cx="498.2" cy="400.2" r="1.8"/><circle cx="501.6" cy="402.2" r="1.8"/><circle cx="497.2" cy="403.8" r="1.8"/><circle cx="493.2" cy="405.2" r="1.8"/><circle cx="538.1" cy="395.6" r="1.8"/><circle cx="530.4" cy="397.8" r="1.8"/><circle cx="539.8" cy="398.1" r="1.8"/><circle cx="546.0" cy="398.5" r="1.8"/><circle cx="536.0" cy="399.4" r="1.8"/><circle cx="539.8" cy="400.6" r="1.8"/><circle cx="534.8" cy="404.8" r="1.8"/><circle cx="522.9" cy="405.2" r="1.8"/><circle cx="527.2" cy="406.9" r="1.8"/><circle cx="531.0" cy="406.9" r="1.8"/><circle cx="529.1" cy="413.8" r="1.8"/><circle cx="533.8" cy="411.9" r="1.8"/><circle cx="533.5" cy="414.4" r="1.8"/><circle cx="538.1" cy="413.8" r="1.8"/><circle cx="557.2" cy="414.8" r="1.8"/><circle cx="564.8" cy="365.0" r="1.8"/><circle cx="564.1" cy="366.9" r="1.8"/><circle cx="577.9" cy="365.6" r="1.8"/><circle cx="574.8" cy="367.5" r="1.8"/><circle cx="581.0" cy="367.5" r="1.8"/><circle cx="585.4" cy="366.2" r="1.8"/><circle cx="589.8" cy="365.6" r="1.8"/><circle cx="593.8" cy="365.6" r="1.8"/><circle cx="568.8" cy="369.8" r="1.8"/><circle cx="581.0" cy="370.6" r="1.8"/><circle cx="589.8" cy="367.5" r="1.8"/><circle cx="584.4" cy="372.2" r="1.8"/><circle cx="568.8" cy="373.8" r="1.8"/><circle cx="572.5" cy="373.8" r="1.8"/><circle cx="567.9" cy="376.5" r="1.8"/><circle cx="571.6" cy="376.0" r="1.8"/><circle cx="627.2" cy="356.2" r="1.8"/><circle cx="632.2" cy="356.5" r="1.8"/><circle cx="625.4" cy="358.5" r="1.8"/><circle cx="632.9" cy="359.4" r="1.8"/><circle cx="635.8" cy="360.2" r="1.8"/><circle cx="616.6" cy="359.4" r="1.8"/><circle cx="613.5" cy="360.6" r="1.8"/><circle cx="615.4" cy="363.5" r="1.8"/><circle cx="629.5" cy="363.8" r="1.8"/><circle cx="615.0" cy="367.5" r="1.8"/><circle cx="620.4" cy="367.2" r="1.8"/><circle cx="626.6" cy="367.2" r="1.8"/><circle cx="616.0" cy="369.0" r="1.8"/><circle cx="629.1" cy="369.0" r="1.8"/><circle cx="604.8" cy="370.2" r="1.8"/><circle cx="615.0" cy="371.9" r="1.8"/><circle cx="624.1" cy="370.0" r="1.8"/><circle cx="605.4" cy="372.8" r="1.8"/><circle cx="604.8" cy="375.0" r="1.8"/><circle cx="621.4" cy="375.9" r="1.8"/><circle cx="606.9" cy="377.5" r="1.8"/><circle cx="610.6" cy="379.0" r="1.8"/><circle cx="615.6" cy="379.4" r="1.8"/><circle cx="607.5" cy="381.5" r="1.8"/><circle cx="634.8" cy="379.4" r="1.8"/><circle cx="639.4" cy="380.9" r="1.8"/><circle cx="629.1" cy="385.0" r="1.8"/><circle cx="633.5" cy="385.2" r="1.8"/><circle cx="624.5" cy="386.5" r="1.8"/><circle cx="627.9" cy="387.8" r="1.8"/><circle cx="620.8" cy="389.0" r="1.8"/><circle cx="624.8" cy="390.2" r="1.8"/><circle cx="629.5" cy="390.6" r="1.8"/><circle cx="633.2" cy="390.9" r="1.8"/><circle cx="620.0" cy="391.9" r="1.8"/><circle cx="563.8" cy="390.9" r="1.8"/><circle cx="573.1" cy="392.8" r="1.8"/><circle cx="576.6" cy="392.8" r="1.8"/><circle cx="581.6" cy="392.8" r="1.8"/><circle cx="587.2" cy="391.9" r="1.8"/><circle cx="593.1" cy="391.5" r="1.8"/><circle cx="598.5" cy="391.5" r="1.8"/><circle cx="603.5" cy="392.1" r="1.8"/><circle cx="561.6" cy="393.1" r="1.8"/><circle cx="589.8" cy="394.4" r="1.8"/><circle cx="601.0" cy="395.2" r="1.8"/><circle cx="604.1" cy="395.0" r="1.8"/><circle cx="592.2" cy="397.2" r="1.8"/><circle cx="600.4" cy="397.5" r="1.8"/><circle cx="566.2" cy="398.5" r="1.8"/><circle cx="571.0" cy="398.5" r="1.8"/><circle cx="580.4" cy="398.1" r="1.8"/><circle cx="584.1" cy="398.5" r="1.8"/><circle cx="604.1" cy="398.5" r="1.8"/><circle cx="562.9" cy="400.6" r="1.8"/><circle cx="572.2" cy="401.0" r="1.8"/><circle cx="579.8" cy="400.2" r="1.8"/><circle cx="600.4" cy="400.2" r="1.8"/><circle cx="606.2" cy="401.0" r="1.8"/><circle cx="576.6" cy="402.2" r="1.8"/><circle cx="582.5" cy="401.9" r="1.8"/><circle cx="569.1" cy="403.5" r="1.8"/><circle cx="595.6" cy="403.1" r="1.8"/><circle cx="576.0" cy="404.4" r="1.8"/><circle cx="564.8" cy="406.0" r="1.8"/><circle cx="584.4" cy="406.2" r="1.8"/><circle cx="596.6" cy="406.2" r="1.8"/><circle cx="590.0" cy="406.9" r="1.8"/><circle cx="579.8" cy="407.5" r="1.8"/><circle cx="566.2" cy="411.9" r="1.8"/><circle cx="524.4" cy="417.8" r="1.8"/><circle cx="520.6" cy="419.8" r="1.8"/><circle cx="506.2" cy="422.8" r="1.8"/><circle cx="501.9" cy="424.8" r="1.8"/><circle cx="506.9" cy="425.0" r="1.8"/><circle cx="525.6" cy="424.4" r="1.8"/><circle cx="509.4" cy="427.2" r="1.8"/><circle cx="502.5" cy="427.8" r="1.8"/><circle cx="513.4" cy="429.8" r="1.8"/><circle cx="521.2" cy="430.2" r="1.8"/><circle cx="497.5" cy="432.2" r="1.8"/><circle cx="500.6" cy="433.1" r="1.8"/><circle cx="526.0" cy="435.0" r="1.8"/><circle cx="518.1" cy="436.2" r="1.8"/><circle cx="513.8" cy="437.8" r="1.8"/><circle cx="496.2" cy="439.8" r="1.8"/><circle cx="499.4" cy="441.0" r="1.8"/><circle cx="491.9" cy="442.8" r="1.8"/><circle cx="497.5" cy="443.1" r="1.8"/><circle cx="502.5" cy="442.8" r="1.8"/><circle cx="523.1" cy="441.5" r="1.8"/><circle cx="526.2" cy="439.8" r="1.8"/><circle cx="506.9" cy="444.8" r="1.8"/><circle cx="500.0" cy="445.2" r="1.8"/><circle cx="503.1" cy="446.2" r="1.8"/><circle cx="509.4" cy="447.2" r="1.8"/><circle cx="496.2" cy="447.8" r="1.8"/><circle cx="506.2" cy="448.5" r="1.8"/><circle cx="513.1" cy="450.2" r="1.8"/><circle cx="507.8" cy="451.5" r="1.8"/><circle cx="537.5" cy="416.5" r="1.8"/><circle cx="531.2" cy="422.5" r="1.8"/><circle cx="541.9" cy="424.4" r="1.8"/><circle cx="533.5" cy="431.2" r="1.8"/><circle cx="532.2" cy="435.2" r="1.8"/><circle cx="543.1" cy="436.0" r="1.8"/><circle cx="548.8" cy="439.0" r="1.8"/><circle cx="551.9" cy="441.0" r="1.8"/><circle cx="540.6" cy="444.8" r="1.8"/><circle cx="547.5" cy="444.4" r="1.8"/><circle cx="528.8" cy="444.0" r="1.8"/><circle cx="551.5" cy="446.2" r="1.8"/><circle cx="555.0" cy="446.5" r="1.8"/><circle cx="537.5" cy="454.4" r="1.8"/><circle cx="541.2" cy="461.9" r="1.8"/><circle cx="548.5" cy="455.2" r="1.8"/><circle cx="552.5" cy="454.4" r="1.8"/><circle cx="557.5" cy="453.1" r="1.8"/><circle cx="556.9" cy="458.5" r="1.8"/><circle cx="560.6" cy="459.4" r="1.8"/><circle cx="555.9" cy="464.0" r="1.8"/><circle cx="561.2" cy="463.5" r="1.8"/><circle cx="551.5" cy="466.0" r="1.8"/><circle cx="550.0" cy="416.5" r="1.8"/><circle cx="553.8" cy="416.2" r="1.8"/><circle cx="556.9" cy="416.0" r="1.8"/><circle cx="559.0" cy="420.2" r="1.8"/><circle cx="549.8" cy="435.0" r="1.8"/><circle cx="565.0" cy="417.2" r="1.8"/><circle cx="561.5" cy="432.5" r="1.8"/><circle cx="556.9" cy="436.9" r="1.8"/><circle cx="557.8" cy="439.0" r="1.8"/><circle cx="570.0" cy="418.5" r="1.8"/><circle cx="570.0" cy="421.2" r="1.8"/><circle cx="576.9" cy="421.2" r="1.8"/><circle cx="581.0" cy="419.4" r="1.8"/><circle cx="572.8" cy="432.2" r="1.8"/><circle cx="575.6" cy="433.8" r="1.8"/><circle cx="570.6" cy="434.4" r="1.8"/><circle cx="564.4" cy="434.8" r="1.8"/><circle cx="581.5" cy="431.9" r="1.8"/><circle cx="595.6" cy="421.9" r="1.8"/><circle cx="592.5" cy="424.4" r="1.8"/><circle cx="603.8" cy="424.4" r="1.8"/><circle cx="594.0" cy="426.5" r="1.8"/><circle cx="585.6" cy="430.0" r="1.8"/><circle cx="587.8" cy="433.1" r="1.8"/><circle cx="597.5" cy="431.9" r="1.8"/><circle cx="601.0" cy="434.8" r="1.8"/><circle cx="562.5" cy="437.5" r="1.8"/><circle cx="566.2" cy="437.2" r="1.8"/><circle cx="569.4" cy="437.8" r="1.8"/><circle cx="572.5" cy="439.0" r="1.8"/><circle cx="578.8" cy="437.8" r="1.8"/><circle cx="582.2" cy="438.8" r="1.8"/><circle cx="566.9" cy="441.0" r="1.8"/><circle cx="578.8" cy="441.0" r="1.8"/><circle cx="581.9" cy="441.5" r="1.8"/><circle cx="588.8" cy="441.5" r="1.8"/><circle cx="567.5" cy="443.5" r="1.8"/><circle cx="578.8" cy="443.5" r="1.8"/><circle cx="582.5" cy="444.0" r="1.8"/><circle cx="560.6" cy="445.0" r="1.8"/><circle cx="563.5" cy="445.2" r="1.8"/><circle cx="566.2" cy="445.6" r="1.8"/><circle cx="571.9" cy="445.2" r="1.8"/><circle cx="595.6" cy="445.2" r="1.8"/><circle cx="563.1" cy="447.8" r="1.8"/><circle cx="566.9" cy="447.8" r="1.8"/><circle cx="587.2" cy="448.1" r="1.8"/><circle cx="595.6" cy="447.8" r="1.8"/><circle cx="579.6" cy="449.4" r="1.8"/><circle cx="576.0" cy="452.2" r="1.8"/><circle cx="586.2" cy="452.2" r="1.8"/><circle cx="572.8" cy="455.0" r="1.8"/><circle cx="571.0" cy="458.5" r="1.8"/><circle cx="566.2" cy="460.2" r="1.8"/><circle cx="590.6" cy="462.2" r="1.8"/><circle cx="571.9" cy="465.2" r="1.8"/><circle cx="587.8" cy="467.2" r="1.8"/><circle cx="578.8" cy="470.0" r="1.8"/><circle cx="585.4" cy="470.6" r="1.8"/><circle cx="566.9" cy="472.1" r="1.8"/><circle cx="578.8" cy="472.5" r="1.8"/><circle cx="518.8" cy="319.0" r="1.8"/><circle cx="578.7" cy="294.8" r="1.8"/><circle cx="481.8" cy="335.6" r="1.8"/><circle cx="545.9" cy="306.7" r="1.8"/><circle cx="485.2" cy="332.4" r="1.8"/><circle cx="545.2" cy="318.6" r="1.8"/><circle cx="522.3" cy="323.6" r="1.8"/><circle cx="516.1" cy="330.5" r="1.8"/><circle cx="569.2" cy="303.4" r="1.8"/><circle cx="560.5" cy="307.4" r="1.8"/><circle cx="594.4" cy="303.8" r="1.8"/><circle cx="496.8" cy="329.1" r="1.8"/><circle cx="549.4" cy="315.5" r="1.8"/><circle cx="569.4" cy="307.2" r="1.8"/><circle cx="503.3" cy="336.3" r="1.8"/><circle cx="490.1" cy="338.9" r="1.8"/><circle cx="557.2" cy="314.3" r="1.8"/><circle cx="577.5" cy="312.4" r="1.8"/><circle cx="504.1" cy="329.7" r="1.8"/><circle cx="593.4" cy="295.4" r="1.8"/><circle cx="587.1" cy="299.9" r="1.8"/><circle cx="567.6" cy="298.2" r="1.8"/><circle cx="494.6" cy="339.1" r="1.8"/><circle cx="543.0" cy="323.1" r="1.8"/><circle cx="574.1" cy="308.6" r="1.8"/><circle cx="500.8" cy="330.6" r="1.8"/><circle cx="518.7" cy="324.9" r="1.8"/><circle cx="584.1" cy="312.8" r="1.8"/><circle cx="531.5" cy="312.1" r="1.8"/><circle cx="503.2" cy="326.3" r="1.8"/><circle cx="509.5" cy="322.0" r="1.8"/><circle cx="529.1" cy="321.4" r="1.8"/><circle cx="600.1" cy="305.0" r="1.8"/><circle cx="587.9" cy="303.5" r="1.8"/><circle cx="591.6" cy="311.3" r="1.8"/><circle cx="507.4" cy="332.1" r="1.8"/><circle cx="513.6" cy="327.8" r="1.8"/><circle cx="580.6" cy="313.0" r="1.8"/><circle cx="538.0" cy="321.8" r="1.8"/><circle cx="479.6" cy="332.1" r="1.8"/><circle cx="526.0" cy="320.9" r="1.8"/><circle cx="586.5" cy="309.4" r="1.8"/><circle cx="515.3" cy="319.0" r="1.8"/><circle cx="560.5" cy="302.5" r="1.8"/><circle cx="514.1" cy="323.7" r="1.8"/><circle cx="599.0" cy="308.3" r="1.8"/><circle cx="596.6" cy="296.1" r="1.8"/><circle cx="561.6" cy="318.9" r="1.8"/><circle cx="548.6" cy="310.8" r="1.8"/><circle cx="549.1" cy="322.8" r="1.8"/><circle cx="553.5" cy="306.7" r="1.8"/><circle cx="577.7" cy="300.4" r="1.8"/><circle cx="552.7" cy="319.3" r="1.8"/><circle cx="587.4" cy="296.5" r="1.8"/><circle cx="523.0" cy="315.3" r="1.8"/><circle cx="541.3" cy="306.7" r="1.8"/><circle cx="494.9" cy="325.4" r="1.8"/><circle cx="500.0" cy="336.0" r="1.8"/><circle cx="548.1" cy="319.5" r="1.8"/><circle cx="577.2" cy="303.4" r="1.8"/><circle cx="563.8" cy="297.8" r="1.8"/><circle cx="528.6" cy="325.4" r="1.8"/><circle cx="531.6" cy="328.6" r="1.8"/><circle cx="525.1" cy="331.5" r="1.8"/><circle cx="565.5" cy="306.8" r="1.8"/><circle cx="565.5" cy="300.5" r="1.8"/><circle cx="599.3" cy="299.1" r="1.8"/><circle cx="538.1" cy="317.3" r="1.8"/><circle cx="551.5" cy="303.8" r="1.8"/><circle cx="517.0" cy="322.4" r="1.8"/><circle cx="550.3" cy="308.0" r="1.8"/><circle cx="501.6" cy="323.7" r="1.8"/><circle cx="511.6" cy="330.1" r="1.8"/><circle cx="570.3" cy="295.3" r="1.8"/><circle cx="525.5" cy="325.3" r="1.8"/><circle cx="540.7" cy="320.0" r="1.8"/><circle cx="521.8" cy="326.9" r="1.8"/><circle cx="566.3" cy="355.6" r="1.8"/><circle cx="558.4" cy="350.5" r="1.8"/><circle cx="592.5" cy="357.2" r="1.8"/><circle cx="593.0" cy="360.2" r="1.8"/><circle cx="557.0" cy="335.6" r="1.8"/><circle cx="548.6" cy="326.7" r="1.8"/><circle cx="586.4" cy="336.1" r="1.8"/><circle cx="578.6" cy="361.9" r="1.8"/><circle cx="572.1" cy="338.7" r="1.8"/><circle cx="565.3" cy="360.3" r="1.8"/><circle cx="578.1" cy="339.3" r="1.8"/><circle cx="565.0" cy="330.9" r="1.8"/><circle cx="553.8" cy="347.5" r="1.8"/><circle cx="600.5" cy="342.6" r="1.8"/><circle cx="572.5" cy="352.1" r="1.8"/><circle cx="589.5" cy="329.3" r="1.8"/><circle cx="593.6" cy="336.5" r="1.8"/><circle cx="573.1" cy="357.9" r="1.8"/><circle cx="578.8" cy="331.4" r="1.8"/><circle cx="564.1" cy="350.7" r="1.8"/><circle cx="575.2" cy="331.3" r="1.8"/><circle cx="558.0" cy="329.0" r="1.8"/><circle cx="599.7" cy="350.9" r="1.8"/><circle cx="587.0" cy="350.5" r="1.8"/><circle cx="560.3" cy="355.5" r="1.8"/><circle cx="572.4" cy="322.1" r="1.8"/><circle cx="553.1" cy="328.8" r="1.8"/><circle cx="584.5" cy="355.6" r="1.8"/><circle cx="571.1" cy="355.4" r="1.8"/><circle cx="581.5" cy="351.9" r="1.8"/><circle cx="589.3" cy="345.6" r="1.8"/><circle cx="555.2" cy="326.6" r="1.8"/><circle cx="546.2" cy="329.7" r="1.8"/><circle cx="599.4" cy="358.3" r="1.8"/><circle cx="550.2" cy="356.9" r="1.8"/><circle cx="584.7" cy="347.2" r="1.8"/><circle cx="570.0" cy="341.3" r="1.8"/><circle cx="586.3" cy="324.4" r="1.8"/><circle cx="580.5" cy="348.4" r="1.8"/><circle cx="583.7" cy="322.2" r="1.8"/><circle cx="554.0" cy="357.8" r="1.8"/><circle cx="547.6" cy="339.1" r="1.8"/><circle cx="594.4" cy="354.4" r="1.8"/><circle cx="598.7" cy="323.9" r="1.8"/><circle cx="590.4" cy="333.8" r="1.8"/><circle cx="595.8" cy="346.5" r="1.8"/><circle cx="558.0" cy="340.5" r="1.8"/><circle cx="567.7" cy="328.7" r="1.8"/><circle cx="575.7" cy="334.6" r="1.8"/><circle cx="556.1" cy="360.3" r="1.8"/><circle cx="561.8" cy="360.8" r="1.8"/><circle cx="561.1" cy="326.0" r="1.8"/><circle cx="582.8" cy="337.4" r="1.8"/><circle cx="553.3" cy="336.6" r="1.8"/><circle cx="519.8" cy="344.8" r="1.8"/><circle cx="502.9" cy="340.5" r="1.8"/><circle cx="514.4" cy="337.4" r="1.8"/><circle cx="488.0" cy="343.8" r="1.8"/><circle cx="509.0" cy="346.3" r="1.8"/><circle cx="481.3" cy="349.8" r="1.8"/><circle cx="539.9" cy="344.1" r="1.8"/><circle cx="534.8" cy="344.7" r="1.8"/><circle cx="534.6" cy="336.0" r="1.8"/><circle cx="544.0" cy="345.8" r="1.8"/><circle cx="503.5" cy="345.1" r="1.8"/><circle cx="488.3" cy="348.1" r="1.8"/>
</g>
<g fill="#377D22">
<circle cx="606.0" cy="297.5" r="1.8"/><circle cx="605.0" cy="303.2" r="1.8"/><circle cx="618.1" cy="302.2" r="1.8"/><circle cx="613.2" cy="304.1" r="1.8"/><circle cx="621.0" cy="306.0" r="1.8"/><circle cx="611.4" cy="307.5" r="1.8"/><circle cx="621.6" cy="308.5" r="1.8"/><circle cx="609.5" cy="312.5" r="1.8"/><circle cx="619.1" cy="312.2" r="1.8"/><circle cx="610.8" cy="315.4" r="1.8"/><circle cx="616.4" cy="315.4" r="1.8"/><circle cx="614.8" cy="318.8" r="1.8"/><circle cx="618.5" cy="318.2" r="1.8"/><circle cx="603.5" cy="316.0" r="1.8"/><circle cx="608.2" cy="320.4" r="1.8"/><circle cx="611.4" cy="325.8" r="1.8"/><circle cx="621.2" cy="325.5" r="1.8"/><circle cx="608.9" cy="327.2" r="1.8"/><circle cx="604.1" cy="328.5" r="1.8"/><circle cx="604.8" cy="332.9" r="1.8"/><circle cx="608.9" cy="332.5" r="1.8"/><circle cx="613.5" cy="332.5" r="1.8"/><circle cx="618.8" cy="332.5" r="1.8"/><circle cx="608.5" cy="335.4" r="1.8"/><circle cx="617.9" cy="337.5" r="1.8"/><circle cx="604.5" cy="340.0" r="1.8"/><circle cx="610.1" cy="341.0" r="1.8"/><circle cx="618.5" cy="341.0" r="1.8"/><circle cx="603.5" cy="343.5" r="1.8"/><circle cx="617.2" cy="347.5" r="1.8"/><circle cx="613.9" cy="350.0" r="1.8"/><circle cx="658.5" cy="301.0" r="1.8"/><circle cx="658.9" cy="310.4" r="1.8"/><circle cx="653.5" cy="313.2" r="1.8"/><circle cx="657.9" cy="312.9" r="1.8"/><circle cx="632.6" cy="316.6" r="1.8"/><circle cx="655.4" cy="316.6" r="1.8"/><circle cx="661.4" cy="316.4" r="1.8"/><circle cx="666.0" cy="316.4" r="1.8"/><circle cx="643.5" cy="318.8" r="1.8"/><circle cx="653.2" cy="319.1" r="1.8"/><circle cx="665.4" cy="318.8" r="1.8"/><circle cx="642.0" cy="321.0" r="1.8"/><circle cx="647.2" cy="321.4" r="1.8"/><circle cx="651.6" cy="321.0" r="1.8"/><circle cx="637.2" cy="324.1" r="1.8"/><circle cx="661.4" cy="323.5" r="1.8"/><circle cx="668.2" cy="321.6" r="1.8"/><circle cx="674.1" cy="321.9" r="1.8"/><circle cx="641.4" cy="325.0" r="1.8"/><circle cx="645.4" cy="324.1" r="1.8"/><circle cx="649.1" cy="326.0" r="1.8"/><circle cx="667.6" cy="326.0" r="1.8"/><circle cx="644.5" cy="327.2" r="1.8"/><circle cx="653.5" cy="327.2" r="1.8"/><circle cx="635.1" cy="330.1" r="1.8"/><circle cx="640.4" cy="330.1" r="1.8"/><circle cx="646.4" cy="333.2" r="1.8"/><circle cx="655.8" cy="335.0" r="1.8"/><circle cx="644.5" cy="336.4" r="1.8"/><circle cx="648.5" cy="340.6" r="1.8"/><circle cx="634.4" cy="346.2" r="1.8"/><circle cx="631.4" cy="348.5" r="1.8"/><circle cx="637.5" cy="351.0" r="1.8"/><circle cx="442.2" cy="364.4" r="1.8"/><circle cx="446.6" cy="364.0" r="1.8"/><circle cx="458.5" cy="364.8" r="1.8"/><circle cx="441.2" cy="366.5" r="1.8"/><circle cx="451.9" cy="367.5" r="1.8"/><circle cx="452.9" cy="370.0" r="1.8"/><circle cx="457.2" cy="369.8" r="1.8"/><circle cx="460.4" cy="369.4" r="1.8"/><circle cx="443.5" cy="373.5" r="1.8"/><circle cx="454.8" cy="372.5" r="1.8"/><circle cx="458.8" cy="371.9" r="1.8"/><circle cx="463.2" cy="372.2" r="1.8"/><circle cx="447.2" cy="375.6" r="1.8"/><circle cx="452.9" cy="375.0" r="1.8"/><circle cx="456.6" cy="374.4" r="1.8"/><circle cx="467.2" cy="374.4" r="1.8"/><circle cx="448.5" cy="378.1" r="1.8"/><circle cx="459.1" cy="381.2" r="1.8"/><circle cx="482.9" cy="364.8" r="1.8"/><circle cx="481.0" cy="367.5" r="1.8"/><circle cx="490.4" cy="367.5" r="1.8"/><circle cx="495.4" cy="367.9" r="1.8"/><circle cx="478.5" cy="369.4" r="1.8"/><circle cx="471.2" cy="371.2" r="1.8"/><circle cx="476.0" cy="371.2" r="1.8"/><circle cx="490.4" cy="371.0" r="1.8"/><circle cx="494.1" cy="370.0" r="1.8"/><circle cx="478.5" cy="373.5" r="1.8"/><circle cx="482.2" cy="373.8" r="1.8"/><circle cx="492.2" cy="375.0" r="1.8"/><circle cx="477.2" cy="376.2" r="1.8"/><circle cx="481.6" cy="376.9" r="1.8"/><circle cx="472.5" cy="377.8" r="1.8"/><circle cx="484.1" cy="378.8" r="1.8"/><circle cx="476.6" cy="379.4" r="1.8"/><circle cx="473.2" cy="381.9" r="1.8"/><circle cx="477.2" cy="381.9" r="1.8"/><circle cx="479.8" cy="383.1" r="1.8"/><circle cx="488.1" cy="383.1" r="1.8"/><circle cx="493.9" cy="380.6" r="1.8"/><circle cx="481.0" cy="386.9" r="1.8"/><circle cx="506.0" cy="367.5" r="1.8"/><circle cx="499.1" cy="370.6" r="1.8"/><circle cx="502.9" cy="370.0" r="1.8"/><circle cx="507.2" cy="371.9" r="1.8"/><circle cx="506.0" cy="377.5" r="1.8"/><circle cx="513.5" cy="375.6" r="1.8"/><circle cx="517.2" cy="375.0" r="1.8"/><circle cx="509.1" cy="378.8" r="1.8"/><circle cx="512.9" cy="378.1" r="1.8"/><circle cx="516.0" cy="378.8" r="1.8"/><circle cx="502.2" cy="381.9" r="1.8"/><circle cx="507.9" cy="380.6" r="1.8"/><circle cx="511.6" cy="381.9" r="1.8"/><circle cx="516.0" cy="381.2" r="1.8"/><circle cx="505.4" cy="384.0" r="1.8"/><circle cx="512.6" cy="385.6" r="1.8"/><circle cx="523.5" cy="369.0" r="1.8"/><circle cx="527.2" cy="371.0" r="1.8"/><circle cx="523.2" cy="375.6" r="1.8"/><circle cx="527.2" cy="376.2" r="1.8"/><circle cx="524.8" cy="378.8" r="1.8"/><circle cx="535.4" cy="378.8" r="1.8"/><circle cx="526.0" cy="381.2" r="1.8"/><circle cx="529.1" cy="381.9" r="1.8"/><circle cx="537.2" cy="381.9" r="1.8"/><circle cx="536.0" cy="385.0" r="1.8"/><circle cx="534.1" cy="387.8" r="1.8"/><circle cx="534.8" cy="391.9" r="1.8"/><circle cx="538.5" cy="391.5" r="1.8"/><circle cx="547.2" cy="363.5" r="1.8"/><circle cx="550.6" cy="365.2" r="1.8"/><circle cx="557.0" cy="370.0" r="1.8"/><circle cx="557.2" cy="372.2" r="1.8"/><circle cx="547.2" cy="380.6" r="1.8"/><circle cx="544.1" cy="382.5" r="1.8"/><circle cx="549.8" cy="384.0" r="1.8"/><circle cx="553.5" cy="385.0" r="1.8"/><circle cx="552.9" cy="387.2" r="1.8"/><circle cx="549.1" cy="389.4" r="1.8"/><circle cx="552.2" cy="390.6" r="1.8"/><circle cx="560.4" cy="389.4" r="1.8"/><circle cx="500.0" cy="392.2" r="1.8"/><circle cx="487.2" cy="396.2" r="1.8"/><circle cx="497.2" cy="396.0" r="1.8"/><circle cx="494.1" cy="397.2" r="1.8"/><circle cx="501.6" cy="398.5" r="1.8"/><circle cx="494.1" cy="401.5" r="1.8"/><circle cx="491.0" cy="402.2" r="1.8"/><circle cx="489.8" cy="403.8" r="1.8"/><circle cx="534.1" cy="396.9" r="1.8"/><circle cx="542.9" cy="396.5" r="1.8"/><circle cx="529.8" cy="400.6" r="1.8"/><circle cx="543.5" cy="399.8" r="1.8"/><circle cx="546.0" cy="401.5" r="1.8"/><circle cx="535.4" cy="402.2" r="1.8"/><circle cx="529.8" cy="402.8" r="1.8"/><circle cx="539.1" cy="403.8" r="1.8"/><circle cx="526.6" cy="403.8" r="1.8"/><circle cx="524.1" cy="409.0" r="1.8"/><circle cx="522.2" cy="411.2" r="1.8"/><circle cx="528.5" cy="411.0" r="1.8"/><circle cx="526.0" cy="412.8" r="1.8"/><circle cx="551.6" cy="414.0" r="1.8"/><circle cx="569.1" cy="365.0" r="1.8"/><circle cx="573.5" cy="364.4" r="1.8"/><circle cx="597.2" cy="363.8" r="1.8"/><circle cx="564.5" cy="371.9" r="1.8"/><circle cx="573.1" cy="369.8" r="1.8"/><circle cx="577.2" cy="369.8" r="1.8"/><circle cx="587.2" cy="369.0" r="1.8"/><circle cx="590.6" cy="370.6" r="1.8"/><circle cx="622.9" cy="356.5" r="1.8"/><circle cx="628.5" cy="360.2" r="1.8"/><circle cx="624.4" cy="361.9" r="1.8"/><circle cx="631.6" cy="361.9" r="1.8"/><circle cx="606.2" cy="363.5" r="1.8"/><circle cx="634.1" cy="364.8" r="1.8"/><circle cx="605.8" cy="366.0" r="1.8"/><circle cx="609.5" cy="366.5" r="1.8"/><circle cx="630.4" cy="367.2" r="1.8"/><circle cx="612.2" cy="369.0" r="1.8"/><circle cx="608.9" cy="370.0" r="1.8"/><circle cx="618.5" cy="371.2" r="1.8"/><circle cx="623.5" cy="372.2" r="1.8"/><circle cx="599.1" cy="374.0" r="1.8"/><circle cx="612.0" cy="373.5" r="1.8"/><circle cx="608.2" cy="375.0" r="1.8"/><circle cx="615.8" cy="374.8" r="1.8"/><circle cx="613.5" cy="376.5" r="1.8"/><circle cx="601.0" cy="377.8" r="1.8"/><circle cx="602.2" cy="380.0" r="1.8"/><circle cx="600.8" cy="381.5" r="1.8"/><circle cx="604.1" cy="382.5" r="1.8"/><circle cx="611.9" cy="382.1" r="1.8"/><circle cx="638.2" cy="377.9" r="1.8"/><circle cx="641.2" cy="378.8" r="1.8"/><circle cx="630.4" cy="381.2" r="1.8"/><circle cx="637.5" cy="386.9" r="1.8"/><circle cx="631.4" cy="388.1" r="1.8"/><circle cx="634.8" cy="388.5" r="1.8"/><circle cx="637.0" cy="389.8" r="1.8"/><circle cx="623.5" cy="393.1" r="1.8"/><circle cx="627.2" cy="393.1" r="1.8"/><circle cx="562.0" cy="389.0" r="1.8"/><circle cx="582.5" cy="390.6" r="1.8"/><circle cx="596.6" cy="394.0" r="1.8"/><circle cx="585.6" cy="395.2" r="1.8"/><circle cx="588.8" cy="397.5" r="1.8"/><circle cx="596.6" cy="397.5" r="1.8"/><circle cx="607.0" cy="397.2" r="1.8"/><circle cx="589.1" cy="400.2" r="1.8"/><circle cx="596.2" cy="399.4" r="1.8"/><circle cx="567.9" cy="400.6" r="1.8"/><circle cx="593.8" cy="402.2" r="1.8"/><circle cx="609.1" cy="402.5" r="1.8"/><circle cx="564.8" cy="403.5" r="1.8"/><circle cx="585.6" cy="403.1" r="1.8"/><circle cx="571.6" cy="405.2" r="1.8"/><circle cx="590.6" cy="404.8" r="1.8"/><circle cx="608.2" cy="405.2" r="1.8"/><circle cx="573.1" cy="408.1" r="1.8"/><circle cx="563.2" cy="408.8" r="1.8"/><circle cx="569.8" cy="413.5" r="1.8"/><circle cx="596.6" cy="414.0" r="1.8"/><circle cx="586.9" cy="415.6" r="1.8"/><circle cx="516.9" cy="417.1" r="1.8"/><circle cx="513.4" cy="419.8" r="1.8"/><circle cx="509.6" cy="421.0" r="1.8"/><circle cx="525.0" cy="420.2" r="1.8"/><circle cx="512.8" cy="423.1" r="1.8"/><circle cx="511.9" cy="425.6" r="1.8"/><circle cx="515.6" cy="427.5" r="1.8"/><circle cx="520.0" cy="427.2" r="1.8"/><circle cx="506.2" cy="429.4" r="1.8"/><circle cx="516.2" cy="431.0" r="1.8"/><circle cx="511.9" cy="431.9" r="1.8"/><circle cx="519.4" cy="433.8" r="1.8"/><circle cx="502.9" cy="434.8" r="1.8"/><circle cx="526.5" cy="431.9" r="1.8"/><circle cx="498.1" cy="437.2" r="1.8"/><circle cx="502.9" cy="438.5" r="1.8"/><circle cx="521.5" cy="438.1" r="1.8"/><circle cx="510.6" cy="439.4" r="1.8"/><circle cx="506.0" cy="441.5" r="1.8"/><circle cx="519.4" cy="442.2" r="1.8"/><circle cx="512.8" cy="443.5" r="1.8"/><circle cx="513.4" cy="446.2" r="1.8"/><circle cx="532.5" cy="417.2" r="1.8"/><circle cx="533.8" cy="419.8" r="1.8"/><circle cx="536.2" cy="423.5" r="1.8"/><circle cx="529.8" cy="426.2" r="1.8"/><circle cx="539.0" cy="426.9" r="1.8"/><circle cx="531.2" cy="428.5" r="1.8"/><circle cx="535.6" cy="429.0" r="1.8"/><circle cx="539.8" cy="431.9" r="1.8"/><circle cx="543.1" cy="431.5" r="1.8"/><circle cx="526.9" cy="431.9" r="1.8"/><circle cx="535.0" cy="434.8" r="1.8"/><circle cx="540.0" cy="436.5" r="1.8"/><circle cx="529.4" cy="437.8" r="1.8"/><circle cx="534.4" cy="440.2" r="1.8"/><circle cx="538.1" cy="439.4" r="1.8"/><circle cx="544.4" cy="439.8" r="1.8"/><circle cx="552.5" cy="437.8" r="1.8"/><circle cx="540.0" cy="442.2" r="1.8"/><circle cx="545.0" cy="441.9" r="1.8"/><circle cx="552.5" cy="443.5" r="1.8"/><circle cx="527.8" cy="447.8" r="1.8"/><circle cx="531.9" cy="447.8" r="1.8"/><circle cx="538.8" cy="447.8" r="1.8"/><circle cx="543.1" cy="447.8" r="1.8"/><circle cx="545.0" cy="450.0" r="1.8"/><circle cx="532.2" cy="451.5" r="1.8"/><circle cx="536.2" cy="458.1" r="1.8"/><circle cx="544.4" cy="459.4" r="1.8"/><circle cx="555.0" cy="456.2" r="1.8"/><circle cx="560.0" cy="454.8" r="1.8"/><circle cx="549.4" cy="459.4" r="1.8"/><circle cx="554.4" cy="458.8" r="1.8"/><circle cx="548.1" cy="461.5" r="1.8"/><circle cx="552.5" cy="463.1" r="1.8"/><circle cx="556.9" cy="461.5" r="1.8"/><circle cx="546.9" cy="464.4" r="1.8"/><circle cx="556.2" cy="466.5" r="1.8"/><circle cx="550.6" cy="420.2" r="1.8"/><circle cx="553.5" cy="420.6" r="1.8"/><circle cx="552.9" cy="426.9" r="1.8"/><circle cx="550.0" cy="428.1" r="1.8"/><circle cx="551.0" cy="432.2" r="1.8"/><circle cx="555.9" cy="433.8" r="1.8"/><circle cx="560.6" cy="429.4" r="1.8"/><circle cx="561.2" cy="422.8" r="1.8"/><circle cx="563.1" cy="419.4" r="1.8"/><circle cx="559.4" cy="436.2" r="1.8"/><circle cx="574.4" cy="416.9" r="1.8"/><circle cx="578.5" cy="417.2" r="1.8"/><circle cx="573.8" cy="421.0" r="1.8"/><circle cx="566.2" cy="422.2" r="1.8"/><circle cx="573.8" cy="424.0" r="1.8"/><circle cx="578.1" cy="424.4" r="1.8"/><circle cx="573.5" cy="426.9" r="1.8"/><circle cx="576.2" cy="428.5" r="1.8"/><circle cx="579.6" cy="428.1" r="1.8"/><circle cx="567.5" cy="430.6" r="1.8"/><circle cx="586.9" cy="415.6" r="1.8"/><circle cx="591.0" cy="419.4" r="1.8"/><circle cx="595.6" cy="419.4" r="1.8"/><circle cx="599.4" cy="419.4" r="1.8"/><circle cx="603.1" cy="419.4" r="1.8"/><circle cx="587.5" cy="421.0" r="1.8"/><circle cx="590.0" cy="422.8" r="1.8"/><circle cx="599.0" cy="422.8" r="1.8"/><circle cx="603.1" cy="421.5" r="1.8"/><circle cx="585.0" cy="423.1" r="1.8"/><circle cx="599.4" cy="424.8" r="1.8"/><circle cx="585.0" cy="426.9" r="1.8"/><circle cx="590.0" cy="427.2" r="1.8"/><circle cx="603.1" cy="428.1" r="1.8"/><circle cx="596.2" cy="430.6" r="1.8"/><circle cx="591.2" cy="434.0" r="1.8"/><circle cx="586.9" cy="436.2" r="1.8"/><circle cx="590.2" cy="437.8" r="1.8"/><circle cx="562.5" cy="440.6" r="1.8"/><circle cx="593.5" cy="440.6" r="1.8"/><circle cx="571.9" cy="442.8" r="1.8"/><circle cx="560.0" cy="442.8" r="1.8"/><circle cx="585.6" cy="443.5" r="1.8"/><circle cx="598.5" cy="442.8" r="1.8"/><circle cx="576.0" cy="445.0" r="1.8"/><circle cx="585.6" cy="445.6" r="1.8"/><circle cx="590.6" cy="444.8" r="1.8"/><circle cx="573.1" cy="448.5" r="1.8"/><circle cx="571.9" cy="450.6" r="1.8"/><circle cx="591.9" cy="451.0" r="1.8"/><circle cx="565.0" cy="451.9" r="1.8"/><circle cx="566.9" cy="454.8" r="1.8"/><circle cx="581.5" cy="454.8" r="1.8"/><circle cx="568.1" cy="456.9" r="1.8"/><circle cx="576.5" cy="459.8" r="1.8"/><circle cx="595.0" cy="459.8" r="1.8"/><circle cx="567.5" cy="462.8" r="1.8"/><circle cx="575.6" cy="461.9" r="1.8"/><circle cx="581.0" cy="461.9" r="1.8"/><circle cx="586.2" cy="462.5" r="1.8"/><circle cx="576.2" cy="464.4" r="1.8"/><circle cx="583.8" cy="465.2" r="1.8"/><circle cx="587.2" cy="464.8" r="1.8"/><circle cx="593.1" cy="464.4" r="1.8"/><circle cx="597.5" cy="465.6" r="1.8"/><circle cx="569.4" cy="467.8" r="1.8"/><circle cx="575.6" cy="466.5" r="1.8"/><circle cx="582.5" cy="466.9" r="1.8"/><circle cx="593.8" cy="466.9" r="1.8"/><circle cx="598.5" cy="466.5" r="1.8"/><circle cx="599.4" cy="468.5" r="1.8"/><circle cx="572.5" cy="469.8" r="1.8"/><circle cx="569.8" cy="470.0" r="1.8"/><circle cx="591.9" cy="469.4" r="1.8"/><circle cx="573.1" cy="472.5" r="1.8"/><circle cx="583.1" cy="473.1" r="1.8"/><circle cx="570.0" cy="474.0" r="1.8"/><circle cx="573.5" cy="475.6" r="1.8"/><circle cx="553.6" cy="313.9" r="1.8"/><circle cx="512.5" cy="320.4" r="1.8"/><circle cx="574.7" cy="305.3" r="1.8"/><circle cx="488.9" cy="332.0" r="1.8"/><circle cx="540.3" cy="310.6" r="1.8"/><circle cx="528.3" cy="329.0" r="1.8"/><circle cx="573.8" cy="295.3" r="1.8"/><circle cx="534.6" cy="321.6" r="1.8"/><circle cx="558.6" cy="321.9" r="1.8"/><circle cx="565.1" cy="317.1" r="1.8"/><circle cx="506.4" cy="325.9" r="1.8"/><circle cx="524.6" cy="328.5" r="1.8"/><circle cx="526.1" cy="317.6" r="1.8"/><circle cx="583.2" cy="297.2" r="1.8"/><circle cx="499.3" cy="326.9" r="1.8"/><circle cx="497.1" cy="332.5" r="1.8"/><circle cx="536.1" cy="326.1" r="1.8"/><circle cx="529.4" cy="316.1" r="1.8"/><circle cx="536.3" cy="311.4" r="1.8"/><circle cx="535.7" cy="314.8" r="1.8"/><circle cx="522.2" cy="318.7" r="1.8"/><circle cx="553.5" cy="310.0" r="1.8"/><circle cx="596.2" cy="300.4" r="1.8"/><circle cx="590.1" cy="307.7" r="1.8"/><circle cx="575.5" cy="316.1" r="1.8"/><circle cx="541.4" cy="316.7" r="1.8"/><circle cx="480.6" cy="341.7" r="1.8"/><circle cx="583.6" cy="307.4" r="1.8"/><circle cx="497.4" cy="337.8" r="1.8"/><circle cx="490.6" cy="328.5" r="1.8"/><circle cx="564.1" cy="312.0" r="1.8"/><circle cx="595.9" cy="306.4" r="1.8"/><circle cx="560.1" cy="315.6" r="1.8"/><circle cx="571.5" cy="311.7" r="1.8"/><circle cx="555.0" cy="302.9" r="1.8"/><circle cx="491.1" cy="334.6" r="1.8"/><circle cx="479.2" cy="337.8" r="1.8"/><circle cx="492.9" cy="330.7" r="1.8"/><circle cx="512.6" cy="333.3" r="1.8"/><circle cx="532.9" cy="316.8" r="1.8"/><circle cx="507.6" cy="335.1" r="1.8"/><circle cx="591.2" cy="300.6" r="1.8"/><circle cx="567.4" cy="311.7" r="1.8"/><circle cx="521.2" cy="329.9" r="1.8"/><circle cx="509.4" cy="326.6" r="1.8"/><circle cx="568.9" cy="317.2" r="1.8"/><circle cx="557.1" cy="309.1" r="1.8"/><circle cx="578.8" cy="306.5" r="1.8"/><circle cx="483.9" cy="340.1" r="1.8"/><circle cx="576.7" cy="297.0" r="1.8"/><circle cx="555.6" cy="322.6" r="1.8"/><circle cx="506.4" cy="321.4" r="1.8"/><circle cx="565.3" cy="303.7" r="1.8"/><circle cx="556.3" cy="318.8" r="1.8"/><circle cx="596.4" cy="310.9" r="1.8"/><circle cx="532.5" cy="324.7" r="1.8"/><circle cx="503.0" cy="332.8" r="1.8"/><circle cx="599.8" cy="294.5" r="1.8"/><circle cx="494.9" cy="336.0" r="1.8"/><circle cx="583.5" cy="294.2" r="1.8"/><circle cx="544.4" cy="314.4" r="1.8"/><circle cx="487.3" cy="336.0" r="1.8"/><circle cx="558.5" cy="305.0" r="1.8"/><circle cx="486.1" cy="329.5" r="1.8"/><circle cx="540.3" cy="325.6" r="1.8"/><circle cx="560.3" cy="312.1" r="1.8"/><circle cx="572.3" cy="317.2" r="1.8"/><circle cx="582.6" cy="303.3" r="1.8"/><circle cx="571.5" cy="299.0" r="1.8"/><circle cx="525.9" cy="313.8" r="1.8"/><circle cx="548.8" cy="305.2" r="1.8"/><circle cx="571.9" cy="302.0" r="1.8"/><circle cx="569.3" cy="314.1" r="1.8"/><circle cx="589.4" cy="355.7" r="1.8"/><circle cx="598.0" cy="340.8" r="1.8"/><circle cx="595.6" cy="323.0" r="1.8"/><circle cx="586.5" cy="329.9" r="1.8"/><circle cx="580.8" cy="334.4" r="1.8"/><circle cx="598.4" cy="334.4" r="1.8"/><circle cx="562.8" cy="335.8" r="1.8"/><circle cx="581.7" cy="344.7" r="1.8"/><circle cx="569.0" cy="325.7" r="1.8"/><circle cx="557.3" cy="357.3" r="1.8"/><circle cx="597.1" cy="330.1" r="1.8"/><circle cx="582.4" cy="327.7" r="1.8"/><circle cx="576.4" cy="327.7" r="1.8"/><circle cx="590.0" cy="339.0" r="1.8"/><circle cx="557.1" cy="343.7" r="1.8"/><circle cx="568.0" cy="346.7" r="1.8"/><circle cx="562.4" cy="347.4" r="1.8"/><circle cx="549.8" cy="329.7" r="1.8"/><circle cx="552.0" cy="333.8" r="1.8"/><circle cx="547.3" cy="353.4" r="1.8"/><circle cx="596.5" cy="338.1" r="1.8"/><circle cx="579.5" cy="354.3" r="1.8"/><circle cx="580.8" cy="341.1" r="1.8"/><circle cx="559.3" cy="346.4" r="1.8"/><circle cx="580.2" cy="322.5" r="1.8"/><circle cx="561.1" cy="341.8" r="1.8"/><circle cx="593.0" cy="341.5" r="1.8"/><circle cx="577.1" cy="358.3" r="1.8"/><circle cx="550.5" cy="341.8" r="1.8"/><circle cx="596.5" cy="359.7" r="1.8"/><circle cx="593.0" cy="331.0" r="1.8"/><circle cx="590.1" cy="349.3" r="1.8"/><circle cx="564.2" cy="325.8" r="1.8"/><circle cx="568.9" cy="360.8" r="1.8"/><circle cx="595.1" cy="349.7" r="1.8"/><circle cx="577.8" cy="351.6" r="1.8"/><circle cx="541.9" cy="349.9" r="1.8"/><circle cx="502.1" cy="348.5" r="1.8"/><circle cx="516.5" cy="343.4" r="1.8"/><circle cx="540.0" cy="335.1" r="1.8"/><circle cx="510.0" cy="340.8" r="1.8"/><circle cx="529.9" cy="346.3" r="1.8"/><circle cx="521.5" cy="341.4" r="1.8"/><circle cx="483.0" cy="346.7" r="1.8"/><circle cx="528.1" cy="337.9" r="1.8"/><circle cx="544.6" cy="340.0" r="1.8"/><circle cx="532.2" cy="339.4" r="1.8"/><circle cx="524.6" cy="340.5" r="1.8"/><circle cx="493.8" cy="348.6" r="1.8"/>
</g>
<g fill="#0000F5">
<circle cx="684.8" cy="371.4" r="1.8"/><circle cx="685.2" cy="371.6" r="1.8"/><circle cx="685.0" cy="371.0" r="1.8"/><circle cx="685.0" cy="372.0" r="1.8"/><circle cx="652.1" cy="430.0" r="1.8"/><circle cx="652.6" cy="430.2" r="1.8"/><circle cx="652.4" cy="429.6" r="1.8"/><circle cx="652.4" cy="430.6" r="1.8"/>
</g>
</g>
<rect x="425.6" y="285.95" width="271.80" height="198.25" fill="none" stroke="#000" stroke-opacity="0.6" stroke-width="0.75"/>
<path d="M466.4 484.2v2.5M508.8 484.2v2.5M551.2 484.2v2.5M593.6 484.2v2.5M636.0 484.2v2.5M678.4 484.2v2.5M425.6 469.4h-2.5M425.6 440.55h-2.5M425.6 411.7h-2.5M425.6 382.85h-2.5M425.6 354.0h-2.5M425.6 325.15h-2.5M425.6 296.3h-2.5" stroke="#000" stroke-opacity="0.65" stroke-width="0.75" fill="none"/>
<text class="tick" transform="translate(466.07 493.35) scale(0.01700 0.02000)" text-anchor="middle" font-size="375.00">−300</text>
<text class="tick" transform="translate(508.47 493.35) scale(0.01700 0.02000)" text-anchor="middle" font-size="375.00">−200</text>
<text class="tick" transform="translate(550.87 493.35) scale(0.01700 0.02000)" text-anchor="middle" font-size="375.00">−100</text>
<text class="tick" transform="translate(593.27 493.35) scale(0.01700 0.02000)" text-anchor="middle" font-size="375.00">0</text>
<text class="tick" transform="translate(635.67 493.35) scale(0.01700 0.02000)" text-anchor="middle" font-size="375.00">100</text>
<text class="tick" transform="translate(678.07 493.35) scale(0.01700 0.02000)" text-anchor="middle" font-size="375.00">200</text>
<text class="tick" transform="translate(420.53 472.10) scale(0.01700 0.02000)" text-anchor="end" font-size="375.00">−300</text>
<text class="tick" transform="translate(420.53 443.25) scale(0.01700 0.02000)" text-anchor="end" font-size="375.00">−200</text>
<text class="tick" transform="translate(420.53 414.40) scale(0.01700 0.02000)" text-anchor="end" font-size="375.00">−100</text>
<text class="tick" transform="translate(420.53 385.55) scale(0.01700 0.02000)" text-anchor="end" font-size="375.00">0</text>
<text class="tick" transform="translate(420.53 356.70) scale(0.01700 0.02000)" text-anchor="end" font-size="375.00">100</text>
<text class="tick" transform="translate(420.53 327.85) scale(0.01700 0.02000)" text-anchor="end" font-size="375.00">200</text>
<text class="tick" transform="translate(420.53 299.00) scale(0.01700 0.02000)" text-anchor="end" font-size="375.00">300</text>
<text class="lab" transform="translate(561.30 508.10) scale(0.01900 0.02000)" text-anchor="middle" font-size="775.00">X-tSNE</text>
<text class="lab" transform="translate(398.20 385.27) rotate(-90) scale(0.01900 0.02000)" text-anchor="middle" font-size="775.00">Y-tSNE</text>
<rect x="433.2" y="293.55" width="169.40" height="69.05" rx="2.2" fill="#fff" fill-opacity="0.8" stroke="#ccc" stroke-opacity="0.8" stroke-width="0.6"/>
<circle cx="453.60" cy="306.40" r="1.8" fill="#EA3323"/>
<text class="leg" transform="translate(479.70 309.35) scale(0.02000 0.02000)" font-size="731.00">original graph</text>
<circle cx="453.60" cy="328.25" r="1.8" fill="#377D22"/>
<text class="leg" transform="translate(479.70 331.20) scale(0.02000 0.02000)" font-size="731.00">mix explanation</text>
<circle cx="453.60" cy="350.10" r="1.8" fill="#0000F5"/>
<text class="leg" transform="translate(479.70 353.05) scale(0.02000 0.02000)" font-size="731.00">ground truth</text>
<text class="cap" transform="translate(504.15 542.30) scale(0.01961 0.02000)" font-size="910.00">(e) BA-2motifs</text>
</g>
<g class="panel" id="panel-f">
<g filter="url(#soft)">
<g fill="#EA3323">
<circle cx="996.5" cy="335.2" r="1.8"/><circle cx="1003.1" cy="332.8" r="1.8"/><circle cx="1023.8" cy="340.0" r="1.8"/><circle cx="1028.1" cy="344.0" r="1.8"/><circle cx="1005.0" cy="341.9" r="1.8"/><circle cx="1014.4" cy="351.9" r="1.8"/><circle cx="1016.9" cy="350.0" r="1.8"/><circle cx="1021.2" cy="351.9" r="1.8"/><circle cx="1041.2" cy="348.8" r="1.8"/><circle cx="1050.0" cy="353.1" r="1.8"/><circle cx="1035.6" cy="353.8" r="1.8"/><circle cx="1043.1" cy="355.0" r="1.8"/><circle cx="1033.8" cy="360.6" r="1.8"/><circle cx="1047.5" cy="356.9" r="1.8"/><circle cx="1045.0" cy="365.4" r="1.8"/><circle cx="1059.4" cy="370.0" r="1.8"/><circle cx="1040.0" cy="368.5" r="1.8"/><circle cx="1032.5" cy="366.9" r="1.8"/><circle cx="1033.1" cy="363.8" r="1.8"/><circle cx="1000.0" cy="359.4" r="1.8"/><circle cx="1003.1" cy="352.5" r="1.8"/><circle cx="1010.0" cy="363.1" r="1.8"/><circle cx="1010.6" cy="378.1" r="1.8"/><circle cx="1011.9" cy="373.1" r="1.8"/><circle cx="967.5" cy="365.0" r="1.8"/><circle cx="976.9" cy="368.1" r="1.8"/><circle cx="987.5" cy="368.8" r="1.8"/><circle cx="988.1" cy="370.2" r="1.8"/><circle cx="980.6" cy="370.6" r="1.8"/><circle cx="979.4" cy="372.8" r="1.8"/><circle cx="988.8" cy="377.5" r="1.8"/><circle cx="978.8" cy="381.2" r="1.8"/><circle cx="985.9" cy="386.9" r="1.8"/><circle cx="975.6" cy="385.0" r="1.8"/><circle cx="970.6" cy="389.8" r="1.8"/><circle cx="954.4" cy="373.4" r="1.8"/><circle cx="959.4" cy="374.0" r="1.8"/><circle cx="958.1" cy="381.2" r="1.8"/><circle cx="966.9" cy="381.2" r="1.8"/><circle cx="993.4" cy="375.0" r="1.8"/><circle cx="996.2" cy="377.9" r="1.8"/><circle cx="1006.9" cy="387.8" r="1.8"/><circle cx="1009.4" cy="385.2" r="1.8"/><circle cx="964.4" cy="397.5" r="1.8"/><circle cx="966.9" cy="398.5" r="1.8"/><circle cx="1030.6" cy="373.1" r="1.8"/><circle cx="1027.5" cy="377.5" r="1.8"/><circle cx="1033.8" cy="378.1" r="1.8"/><circle cx="1036.2" cy="385.0" r="1.8"/><circle cx="1018.1" cy="388.5" r="1.8"/><circle cx="1024.4" cy="388.1" r="1.8"/><circle cx="1036.2" cy="388.8" r="1.8"/><circle cx="1033.8" cy="393.1" r="1.8"/><circle cx="1020.0" cy="396.2" r="1.8"/><circle cx="1035.0" cy="418.1" r="1.8"/><circle cx="981.2" cy="401.5" r="1.8"/><circle cx="986.2" cy="404.4" r="1.8"/><circle cx="968.5" cy="404.4" r="1.8"/><circle cx="968.1" cy="407.2" r="1.8"/><circle cx="975.0" cy="406.5" r="1.8"/><circle cx="973.1" cy="416.9" r="1.8"/><circle cx="957.2" cy="411.9" r="1.8"/><circle cx="966.0" cy="417.8" r="1.8"/><circle cx="1000.9" cy="410.2" r="1.8"/><circle cx="1005.6" cy="411.0" r="1.8"/><circle cx="1010.0" cy="413.5" r="1.8"/><circle cx="1011.2" cy="422.5" r="1.8"/><circle cx="1018.1" cy="422.2" r="1.8"/><circle cx="947.1" cy="421.5" r="1.8"/><circle cx="955.0" cy="421.2" r="1.8"/><circle cx="948.8" cy="429.4" r="1.8"/><circle cx="943.1" cy="430.2" r="1.8"/><circle cx="977.5" cy="426.2" r="1.8"/><circle cx="1005.0" cy="424.0" r="1.8"/><circle cx="1006.2" cy="425.6" r="1.8"/><circle cx="1013.4" cy="428.5" r="1.8"/><circle cx="1017.5" cy="432.2" r="1.8"/><circle cx="1030.0" cy="421.0" r="1.8"/><circle cx="1027.5" cy="428.5" r="1.8"/><circle cx="983.1" cy="428.8" r="1.8"/><circle cx="976.2" cy="430.0" r="1.8"/><circle cx="972.5" cy="430.2" r="1.8"/><circle cx="981.2" cy="434.4" r="1.8"/><circle cx="971.2" cy="435.6" r="1.8"/><circle cx="996.2" cy="431.2" r="1.8"/><circle cx="998.1" cy="432.5" r="1.8"/><circle cx="1000.6" cy="433.1" r="1.8"/><circle cx="1000.0" cy="435.6" r="1.8"/><circle cx="989.4" cy="435.6" r="1.8"/><circle cx="1001.2" cy="438.1" r="1.8"/><circle cx="1005.0" cy="436.9" r="1.8"/><circle cx="1012.5" cy="436.9" r="1.8"/><circle cx="1011.2" cy="442.5" r="1.8"/><circle cx="995.2" cy="441.9" r="1.8"/><circle cx="974.4" cy="445.6" r="1.8"/><circle cx="985.0" cy="446.5" r="1.8"/><circle cx="960.0" cy="436.9" r="1.8"/><circle cx="963.1" cy="442.2" r="1.8"/><circle cx="938.8" cy="431.9" r="1.8"/><circle cx="939.4" cy="438.8" r="1.8"/><circle cx="1006.9" cy="449.8" r="1.8"/><circle cx="965.6" cy="446.5" r="1.8"/><circle cx="971.2" cy="446.2" r="1.8"/><circle cx="957.8" cy="452.5" r="1.8"/><circle cx="990.6" cy="453.1" r="1.8"/><circle cx="996.9" cy="454.4" r="1.8"/><circle cx="986.5" cy="455.0" r="1.8"/><circle cx="994.4" cy="460.6" r="1.8"/><circle cx="946.9" cy="454.8" r="1.8"/><circle cx="951.2" cy="454.8" r="1.8"/><circle cx="951.2" cy="462.5" r="1.8"/><circle cx="989.4" cy="463.5" r="1.8"/><circle cx="943.1" cy="464.8" r="1.8"/><circle cx="950.6" cy="463.8" r="1.8"/><circle cx="947.5" cy="469.0" r="1.8"/><circle cx="951.9" cy="469.4" r="1.8"/><circle cx="983.8" cy="466.2" r="1.8"/><circle cx="983.4" cy="475.2" r="1.8"/><circle cx="1008.9" cy="339.6" r="1.8"/><circle cx="1013.1" cy="343.9" r="1.8"/><circle cx="1015.8" cy="346.9" r="1.8"/><circle cx="1020.8" cy="337.9" r="1.8"/><circle cx="1025.5" cy="345.6" r="1.8"/><circle cx="1022.8" cy="349.3" r="1.8"/><circle cx="1027.1" cy="347.3" r="1.8"/><circle cx="1033.4" cy="347.8" r="1.8"/><circle cx="1013.4" cy="350.5" r="1.8"/><circle cx="1020.0" cy="353.4" r="1.8"/><circle cx="1040.9" cy="349.3" r="1.8"/><circle cx="1042.4" cy="356.8" r="1.8"/><circle cx="1036.4" cy="360.5" r="1.8"/><circle cx="1056.2" cy="361.4" r="1.8"/><circle cx="1053.8" cy="362.0" r="1.8"/><circle cx="1047.5" cy="366.4" r="1.8"/><circle cx="1035.5" cy="365.2" r="1.8"/><circle cx="1011.2" cy="362.2" r="1.8"/><circle cx="1016.8" cy="366.6" r="1.8"/><circle cx="1010.4" cy="373.1" r="1.8"/><circle cx="973.0" cy="364.7" r="1.8"/><circle cx="974.2" cy="368.8" r="1.8"/><circle cx="983.2" cy="369.0" r="1.8"/><circle cx="974.5" cy="373.5" r="1.8"/><circle cx="987.0" cy="378.5" r="1.8"/><circle cx="982.4" cy="384.8" r="1.8"/><circle cx="964.0" cy="381.3" r="1.8"/><circle cx="999.6" cy="382.2" r="1.8"/><circle cx="1001.2" cy="385.4" r="1.8"/><circle cx="1034.3" cy="380.3" r="1.8"/><circle cx="1032.7" cy="386.0" r="1.8"/><circle cx="1031.1" cy="391.9" r="1.8"/><circle cx="1021.5" cy="390.4" r="1.8"/><circle cx="1023.1" cy="392.0" r="1.8"/><circle cx="1021.7" cy="394.3" r="1.8"/><circle cx="1023.9" cy="395.5" r="1.8"/><circle cx="1028.5" cy="404.5" r="1.8"/><circle cx="1035.1" cy="417.8" r="1.8"/><circle cx="984.6" cy="404.0" r="1.8"/><circle cx="978.0" cy="413.9" r="1.8"/><circle cx="1000.3" cy="405.8" r="1.8"/><circle cx="1002.4" cy="411.7" r="1.8"/><circle cx="1012.2" cy="417.1" r="1.8"/><circle cx="986.2" cy="418.6" r="1.8"/><circle cx="952.5" cy="418.2" r="1.8"/><circle cx="950.8" cy="422.7" r="1.8"/><circle cx="953.1" cy="424.9" r="1.8"/><circle cx="952.4" cy="429.4" r="1.8"/><circle cx="951.2" cy="430.1" r="1.8"/><circle cx="984.4" cy="422.4" r="1.8"/><circle cx="974.2" cy="427.1" r="1.8"/><circle cx="987.9" cy="428.9" r="1.8"/><circle cx="1013.9" cy="431.1" r="1.8"/><circle cx="1025.9" cy="432.9" r="1.8"/><circle cx="982.4" cy="428.5" r="1.8"/><circle cx="970.8" cy="431.4" r="1.8"/><circle cx="972.9" cy="432.6" r="1.8"/><circle cx="971.6" cy="434.5" r="1.8"/><circle cx="975.8" cy="436.1" r="1.8"/><circle cx="1003.5" cy="433.8" r="1.8"/><circle cx="986.6" cy="434.5" r="1.8"/><circle cx="1009.7" cy="439.2" r="1.8"/><circle cx="1010.0" cy="439.5" r="1.8"/><circle cx="1013.4" cy="435.9" r="1.8"/><circle cx="1014.6" cy="442.3" r="1.8"/><circle cx="1016.0" cy="441.4" r="1.8"/><circle cx="999.3" cy="442.2" r="1.8"/><circle cx="983.6" cy="442.6" r="1.8"/><circle cx="963.1" cy="439.2" r="1.8"/><circle cx="939.4" cy="435.1" r="1.8"/><circle cx="940.4" cy="435.9" r="1.8"/><circle cx="941.6" cy="440.1" r="1.8"/><circle cx="1005.1" cy="447.1" r="1.8"/><circle cx="963.7" cy="450.1" r="1.8"/><circle cx="961.6" cy="451.0" r="1.8"/><circle cx="977.1" cy="451.2" r="1.8"/><circle cx="946.3" cy="450.1" r="1.8"/><circle cx="983.3" cy="452.1" r="1.8"/><circle cx="988.0" cy="451.7" r="1.8"/><circle cx="949.4" cy="457.0" r="1.8"/><circle cx="951.9" cy="455.7" r="1.8"/><circle cx="947.6" cy="460.2" r="1.8"/><circle cx="969.7" cy="458.6" r="1.8"/><circle cx="967.5" cy="463.8" r="1.8"/><circle cx="970.5" cy="463.8" r="1.8"/><circle cx="985.0" cy="462.8" r="1.8"/><circle cx="947.2" cy="466.9" r="1.8"/><circle cx="957.0" cy="467.4" r="1.8"/><circle cx="969.4" cy="464.7" r="1.8"/><circle cx="988.6" cy="464.0" r="1.8"/><circle cx="991.3" cy="467.2" r="1.8"/><circle cx="991.6" cy="469.8" r="1.8"/><circle cx="982.0" cy="474.6" r="1.8"/><circle cx="1008.4" cy="336.0" r="1.8"/><circle cx="1012.0" cy="345.6" r="1.8"/><circle cx="1021.1" cy="344.7" r="1.8"/><circle cx="1030.8" cy="346.2" r="1.8"/><circle cx="1031.2" cy="347.6" r="1.8"/><circle cx="1040.8" cy="349.8" r="1.8"/><circle cx="1052.4" cy="360.1" r="1.8"/><circle cx="1011.9" cy="365.0" r="1.8"/><circle cx="1012.6" cy="363.9" r="1.8"/><circle cx="1015.2" cy="368.1" r="1.8"/><circle cx="1010.8" cy="370.0" r="1.8"/><circle cx="1011.2" cy="373.7" r="1.8"/><circle cx="969.4" cy="365.9" r="1.8"/><circle cx="985.8" cy="366.1" r="1.8"/><circle cx="959.1" cy="380.0" r="1.8"/><circle cx="962.9" cy="379.3" r="1.8"/><circle cx="963.8" cy="378.1" r="1.8"/><circle cx="997.9" cy="378.5" r="1.8"/><circle cx="998.9" cy="382.3" r="1.8"/><circle cx="965.5" cy="396.2" r="1.8"/><circle cx="1031.5" cy="375.1" r="1.8"/><circle cx="1024.3" cy="377.9" r="1.8"/><circle cx="1025.5" cy="386.5" r="1.8"/><circle cx="1041.7" cy="394.4" r="1.8"/><circle cx="1023.8" cy="396.2" r="1.8"/><circle cx="972.0" cy="414.1" r="1.8"/><circle cx="1003.1" cy="411.9" r="1.8"/><circle cx="994.3" cy="415.9" r="1.8"/><circle cx="993.2" cy="420.4" r="1.8"/><circle cx="951.5" cy="419.4" r="1.8"/><circle cx="1004.9" cy="427.7" r="1.8"/><circle cx="1005.6" cy="431.3" r="1.8"/><circle cx="1008.0" cy="431.4" r="1.8"/><circle cx="1016.4" cy="441.7" r="1.8"/><circle cx="960.2" cy="451.8" r="1.8"/><circle cx="993.5" cy="455.8" r="1.8"/><circle cx="997.2" cy="458.5" r="1.8"/><circle cx="949.1" cy="457.3" r="1.8"/><circle cx="968.9" cy="459.5" r="1.8"/><circle cx="943.3" cy="462.6" r="1.8"/><circle cx="955.7" cy="465.7" r="1.8"/><circle cx="968.9" cy="464.6" r="1.8"/>
</g>
<g fill="#377D22">
<circle cx="997.5" cy="336.2" r="1.8"/><circle cx="1001.2" cy="334.4" r="1.8"/><circle cx="1003.8" cy="335.6" r="1.8"/><circle cx="1006.9" cy="335.0" r="1.8"/><circle cx="1005.0" cy="337.8" r="1.8"/><circle cx="1008.1" cy="338.1" r="1.8"/><circle cx="1010.0" cy="339.4" r="1.8"/><circle cx="1008.8" cy="341.9" r="1.8"/><circle cx="1011.2" cy="343.1" r="1.8"/><circle cx="1013.8" cy="343.8" r="1.8"/><circle cx="1016.2" cy="342.5" r="1.8"/><circle cx="1012.5" cy="345.6" r="1.8"/><circle cx="1015.6" cy="346.2" r="1.8"/><circle cx="1018.8" cy="346.2" r="1.8"/><circle cx="1021.2" cy="345.0" r="1.8"/><circle cx="1020.6" cy="338.5" r="1.8"/><circle cx="1022.5" cy="342.5" r="1.8"/><circle cx="1024.4" cy="345.6" r="1.8"/><circle cx="1022.5" cy="348.1" r="1.8"/><circle cx="1019.4" cy="349.4" r="1.8"/><circle cx="1026.2" cy="347.5" r="1.8"/><circle cx="1029.4" cy="346.9" r="1.8"/><circle cx="1032.5" cy="348.1" r="1.8"/><circle cx="1029.4" cy="350.6" r="1.8"/><circle cx="1035.0" cy="348.8" r="1.8"/><circle cx="1013.8" cy="350.0" r="1.8"/><circle cx="1019.4" cy="353.1" r="1.8"/><circle cx="1038.8" cy="350.6" r="1.8"/><circle cx="1041.2" cy="350.0" r="1.8"/><circle cx="1043.8" cy="351.9" r="1.8"/><circle cx="1046.2" cy="350.6" r="1.8"/><circle cx="1036.9" cy="353.1" r="1.8"/><circle cx="1040.6" cy="353.8" r="1.8"/><circle cx="1045.0" cy="353.1" r="1.8"/><circle cx="1037.5" cy="356.2" r="1.8"/><circle cx="1041.9" cy="356.9" r="1.8"/><circle cx="1046.2" cy="355.6" r="1.8"/><circle cx="1041.9" cy="360.0" r="1.8"/><circle cx="1036.2" cy="361.2" r="1.8"/><circle cx="1052.5" cy="360.0" r="1.8"/><circle cx="1055.6" cy="361.2" r="1.8"/><circle cx="1058.1" cy="363.1" r="1.8"/><circle cx="1053.8" cy="363.1" r="1.8"/><circle cx="1050.6" cy="363.8" r="1.8"/><circle cx="1048.1" cy="365.6" r="1.8"/><circle cx="1051.9" cy="365.6" r="1.8"/><circle cx="1055.6" cy="365.0" r="1.8"/><circle cx="1059.4" cy="365.0" r="1.8"/><circle cx="1047.5" cy="367.5" r="1.8"/><circle cx="1056.9" cy="370.6" r="1.8"/><circle cx="1035.0" cy="365.4" r="1.8"/><circle cx="1037.5" cy="365.6" r="1.8"/><circle cx="1026.9" cy="359.1" r="1.8"/><circle cx="1000.6" cy="353.1" r="1.8"/><circle cx="1003.1" cy="355.0" r="1.8"/><circle cx="1000.0" cy="356.2" r="1.8"/><circle cx="1005.0" cy="356.2" r="1.8"/><circle cx="1006.9" cy="356.9" r="1.8"/><circle cx="1008.8" cy="360.0" r="1.8"/><circle cx="1010.6" cy="361.9" r="1.8"/><circle cx="1011.9" cy="363.8" r="1.8"/><circle cx="1013.1" cy="365.6" r="1.8"/><circle cx="1015.6" cy="366.2" r="1.8"/><circle cx="1013.8" cy="368.1" r="1.8"/><circle cx="1012.5" cy="369.4" r="1.8"/><circle cx="1011.2" cy="373.8" r="1.8"/><circle cx="1013.8" cy="375.6" r="1.8"/><circle cx="969.4" cy="366.2" r="1.8"/><circle cx="972.5" cy="365.0" r="1.8"/><circle cx="968.1" cy="369.0" r="1.8"/><circle cx="971.2" cy="368.1" r="1.8"/><circle cx="974.4" cy="370.0" r="1.8"/><circle cx="982.5" cy="366.9" r="1.8"/><circle cx="985.6" cy="366.2" r="1.8"/><circle cx="983.8" cy="368.8" r="1.8"/><circle cx="972.5" cy="372.5" r="1.8"/><circle cx="975.6" cy="373.1" r="1.8"/><circle cx="977.5" cy="375.0" r="1.8"/><circle cx="983.1" cy="373.1" r="1.8"/><circle cx="975.0" cy="375.6" r="1.8"/><circle cx="978.8" cy="377.5" r="1.8"/><circle cx="981.9" cy="376.9" r="1.8"/><circle cx="985.0" cy="377.5" r="1.8"/><circle cx="987.5" cy="378.1" r="1.8"/><circle cx="977.5" cy="380.0" r="1.8"/><circle cx="980.6" cy="380.6" r="1.8"/><circle cx="983.8" cy="381.2" r="1.8"/><circle cx="986.9" cy="381.2" r="1.8"/><circle cx="989.4" cy="383.8" r="1.8"/><circle cx="986.2" cy="384.4" r="1.8"/><circle cx="982.5" cy="383.8" r="1.8"/><circle cx="966.2" cy="374.4" r="1.8"/><circle cx="975.0" cy="386.9" r="1.8"/><circle cx="956.2" cy="373.8" r="1.8"/><circle cx="958.1" cy="374.4" r="1.8"/><circle cx="956.9" cy="375.6" r="1.8"/><circle cx="959.4" cy="380.6" r="1.8"/><circle cx="961.9" cy="380.0" r="1.8"/><circle cx="964.4" cy="378.1" r="1.8"/><circle cx="961.9" cy="381.9" r="1.8"/><circle cx="965.0" cy="381.2" r="1.8"/><circle cx="998.1" cy="380.0" r="1.8"/><circle cx="998.8" cy="382.5" r="1.8"/><circle cx="1000.0" cy="384.4" r="1.8"/><circle cx="1001.9" cy="385.6" r="1.8"/><circle cx="1003.1" cy="387.5" r="1.8"/><circle cx="1000.6" cy="388.1" r="1.8"/><circle cx="1006.2" cy="387.5" r="1.8"/><circle cx="965.0" cy="394.4" r="1.8"/><circle cx="967.5" cy="395.0" r="1.8"/><circle cx="969.4" cy="395.6" r="1.8"/><circle cx="966.2" cy="396.9" r="1.8"/><circle cx="968.8" cy="397.5" r="1.8"/><circle cx="1028.8" cy="373.1" r="1.8"/><circle cx="1031.2" cy="374.4" r="1.8"/><circle cx="1032.5" cy="376.2" r="1.8"/><circle cx="1035.0" cy="376.2" r="1.8"/><circle cx="1023.8" cy="378.1" r="1.8"/><circle cx="1025.6" cy="377.5" r="1.8"/><circle cx="1027.5" cy="379.4" r="1.8"/><circle cx="1024.4" cy="380.0" r="1.8"/><circle cx="1035.6" cy="380.0" r="1.8"/><circle cx="1033.8" cy="381.2" r="1.8"/><circle cx="1031.2" cy="379.4" r="1.8"/><circle cx="1026.9" cy="383.1" r="1.8"/><circle cx="1025.6" cy="385.0" r="1.8"/><circle cx="1031.2" cy="384.4" r="1.8"/><circle cx="1032.5" cy="386.9" r="1.8"/><circle cx="1037.5" cy="387.5" r="1.8"/><circle cx="1022.5" cy="386.9" r="1.8"/><circle cx="1021.2" cy="388.8" r="1.8"/><circle cx="1023.8" cy="388.8" r="1.8"/><circle cx="1026.2" cy="386.9" r="1.8"/><circle cx="1035.0" cy="389.4" r="1.8"/><circle cx="1030.6" cy="391.2" r="1.8"/><circle cx="1033.1" cy="391.9" r="1.8"/><circle cx="1021.9" cy="391.2" r="1.8"/><circle cx="1023.8" cy="391.9" r="1.8"/><circle cx="1021.2" cy="393.8" r="1.8"/><circle cx="1023.8" cy="395.0" r="1.8"/><circle cx="1040.6" cy="395.6" r="1.8"/><circle cx="1041.9" cy="397.5" r="1.8"/><circle cx="1022.5" cy="396.9" r="1.8"/><circle cx="1042.5" cy="401.9" r="1.8"/><circle cx="1028.1" cy="404.8" r="1.8"/><circle cx="1035.0" cy="416.2" r="1.8"/><circle cx="1035.6" cy="417.5" r="1.8"/><circle cx="980.0" cy="403.1" r="1.8"/><circle cx="977.5" cy="404.4" r="1.8"/><circle cx="985.0" cy="404.4" r="1.8"/><circle cx="962.5" cy="405.6" r="1.8"/><circle cx="965.6" cy="405.0" r="1.8"/><circle cx="970.6" cy="406.9" r="1.8"/><circle cx="974.4" cy="407.5" r="1.8"/><circle cx="968.1" cy="410.6" r="1.8"/><circle cx="971.2" cy="411.2" r="1.8"/><circle cx="975.6" cy="410.6" r="1.8"/><circle cx="972.5" cy="413.1" r="1.8"/><circle cx="970.0" cy="412.5" r="1.8"/><circle cx="978.8" cy="414.4" r="1.8"/><circle cx="959.4" cy="410.0" r="1.8"/><circle cx="958.1" cy="411.2" r="1.8"/><circle cx="948.4" cy="413.5" r="1.8"/><circle cx="967.5" cy="416.9" r="1.8"/><circle cx="964.6" cy="419.8" r="1.8"/><circle cx="999.6" cy="405.2" r="1.8"/><circle cx="1003.1" cy="410.6" r="1.8"/><circle cx="1003.1" cy="412.5" r="1.8"/><circle cx="1011.2" cy="414.4" r="1.8"/><circle cx="1015.0" cy="413.8" r="1.8"/><circle cx="1012.5" cy="416.0" r="1.8"/><circle cx="1015.6" cy="416.5" r="1.8"/><circle cx="1018.4" cy="416.9" r="1.8"/><circle cx="993.1" cy="417.2" r="1.8"/><circle cx="991.9" cy="420.0" r="1.8"/><circle cx="985.4" cy="418.8" r="1.8"/><circle cx="1001.9" cy="421.2" r="1.8"/><circle cx="1017.5" cy="423.5" r="1.8"/><circle cx="1015.0" cy="425.0" r="1.8"/><circle cx="950.6" cy="417.5" r="1.8"/><circle cx="953.1" cy="418.1" r="1.8"/><circle cx="948.1" cy="419.4" r="1.8"/><circle cx="951.9" cy="420.6" r="1.8"/><circle cx="950.6" cy="423.8" r="1.8"/><circle cx="953.8" cy="425.0" r="1.8"/><circle cx="956.9" cy="425.6" r="1.8"/><circle cx="950.0" cy="426.9" r="1.8"/><circle cx="952.5" cy="428.8" r="1.8"/><circle cx="955.6" cy="428.8" r="1.8"/><circle cx="951.9" cy="430.6" r="1.8"/><circle cx="938.8" cy="427.5" r="1.8"/><circle cx="944.4" cy="427.8" r="1.8"/><circle cx="980.0" cy="421.9" r="1.8"/><circle cx="984.4" cy="423.1" r="1.8"/><circle cx="978.1" cy="424.4" r="1.8"/><circle cx="980.6" cy="425.6" r="1.8"/><circle cx="975.0" cy="427.2" r="1.8"/><circle cx="998.1" cy="424.4" r="1.8"/><circle cx="999.4" cy="425.6" r="1.8"/><circle cx="1009.4" cy="425.6" r="1.8"/><circle cx="987.9" cy="428.1" r="1.8"/><circle cx="1006.2" cy="428.1" r="1.8"/><circle cx="1005.6" cy="430.6" r="1.8"/><circle cx="1008.8" cy="431.2" r="1.8"/><circle cx="1013.8" cy="431.9" r="1.8"/><circle cx="1014.4" cy="434.4" r="1.8"/><circle cx="1018.1" cy="433.8" r="1.8"/><circle cx="1027.5" cy="421.9" r="1.8"/><circle cx="1030.0" cy="423.1" r="1.8"/><circle cx="1025.6" cy="424.4" r="1.8"/><circle cx="1028.8" cy="425.6" r="1.8"/><circle cx="1031.9" cy="424.4" r="1.8"/><circle cx="1023.8" cy="427.8" r="1.8"/><circle cx="1026.2" cy="431.9" r="1.8"/><circle cx="981.9" cy="429.4" r="1.8"/><circle cx="978.8" cy="431.2" r="1.8"/><circle cx="970.6" cy="432.5" r="1.8"/><circle cx="973.8" cy="432.5" r="1.8"/><circle cx="976.9" cy="433.1" r="1.8"/><circle cx="968.8" cy="435.0" r="1.8"/><circle cx="972.5" cy="435.0" r="1.8"/><circle cx="975.6" cy="435.0" r="1.8"/><circle cx="991.2" cy="431.9" r="1.8"/><circle cx="993.8" cy="431.2" r="1.8"/><circle cx="1003.8" cy="435.0" r="1.8"/><circle cx="998.1" cy="435.6" r="1.8"/><circle cx="995.0" cy="436.9" r="1.8"/><circle cx="986.2" cy="435.0" r="1.8"/><circle cx="988.1" cy="438.1" r="1.8"/><circle cx="1003.1" cy="439.4" r="1.8"/><circle cx="1006.2" cy="441.2" r="1.8"/><circle cx="1010.0" cy="438.1" r="1.8"/><circle cx="1010.6" cy="440.0" r="1.8"/><circle cx="1013.8" cy="436.2" r="1.8"/><circle cx="1015.0" cy="441.9" r="1.8"/><circle cx="1016.9" cy="441.9" r="1.8"/><circle cx="1010.0" cy="444.0" r="1.8"/><circle cx="1000.0" cy="441.9" r="1.8"/><circle cx="984.4" cy="438.1" r="1.8"/><circle cx="980.6" cy="438.8" r="1.8"/><circle cx="981.9" cy="441.2" r="1.8"/><circle cx="978.8" cy="442.5" r="1.8"/><circle cx="983.8" cy="443.1" r="1.8"/><circle cx="973.8" cy="441.2" r="1.8"/><circle cx="975.6" cy="441.9" r="1.8"/><circle cx="976.9" cy="445.6" r="1.8"/><circle cx="987.5" cy="445.6" r="1.8"/><circle cx="961.9" cy="438.1" r="1.8"/><circle cx="963.8" cy="439.4" r="1.8"/><circle cx="966.2" cy="439.4" r="1.8"/><circle cx="965.0" cy="441.2" r="1.8"/><circle cx="939.4" cy="434.4" r="1.8"/><circle cx="943.8" cy="434.8" r="1.8"/><circle cx="940.6" cy="436.9" r="1.8"/><circle cx="941.9" cy="440.6" r="1.8"/><circle cx="1005.6" cy="447.5" r="1.8"/><circle cx="1003.8" cy="450.0" r="1.8"/><circle cx="968.1" cy="447.2" r="1.8"/><circle cx="965.0" cy="449.0" r="1.8"/><circle cx="966.9" cy="448.8" r="1.8"/><circle cx="963.8" cy="450.6" r="1.8"/><circle cx="960.6" cy="451.2" r="1.8"/><circle cx="976.2" cy="450.4" r="1.8"/><circle cx="945.6" cy="448.8" r="1.8"/><circle cx="947.5" cy="449.4" r="1.8"/><circle cx="946.9" cy="450.6" r="1.8"/><circle cx="983.8" cy="451.2" r="1.8"/><circle cx="986.2" cy="450.0" r="1.8"/><circle cx="989.4" cy="450.0" r="1.8"/><circle cx="987.5" cy="452.5" r="1.8"/><circle cx="990.0" cy="453.1" r="1.8"/><circle cx="993.8" cy="453.8" r="1.8"/><circle cx="995.6" cy="456.2" r="1.8"/><circle cx="996.2" cy="458.1" r="1.8"/><circle cx="988.8" cy="455.6" r="1.8"/><circle cx="987.5" cy="457.5" r="1.8"/><circle cx="989.4" cy="459.4" r="1.8"/><circle cx="945.6" cy="456.2" r="1.8"/><circle cx="948.8" cy="456.9" r="1.8"/><circle cx="951.2" cy="456.2" r="1.8"/><circle cx="946.2" cy="459.4" r="1.8"/><circle cx="948.8" cy="460.0" r="1.8"/><circle cx="944.4" cy="462.5" r="1.8"/><circle cx="947.5" cy="462.5" r="1.8"/><circle cx="950.0" cy="463.1" r="1.8"/><circle cx="969.4" cy="458.1" r="1.8"/><circle cx="972.5" cy="457.5" r="1.8"/><circle cx="975.0" cy="460.0" r="1.8"/><circle cx="968.8" cy="460.6" r="1.8"/><circle cx="967.5" cy="463.1" r="1.8"/><circle cx="970.6" cy="463.1" r="1.8"/><circle cx="981.2" cy="461.9" r="1.8"/><circle cx="984.4" cy="463.1" r="1.8"/><circle cx="986.2" cy="463.5" r="1.8"/><circle cx="943.8" cy="462.5" r="1.8"/><circle cx="946.2" cy="463.8" r="1.8"/><circle cx="948.8" cy="465.0" r="1.8"/><circle cx="945.0" cy="465.6" r="1.8"/><circle cx="947.5" cy="467.5" r="1.8"/><circle cx="952.5" cy="468.1" r="1.8"/><circle cx="955.0" cy="467.5" r="1.8"/><circle cx="956.9" cy="466.9" r="1.8"/><circle cx="968.8" cy="464.4" r="1.8"/><circle cx="971.9" cy="467.5" r="1.8"/><circle cx="966.9" cy="463.8" r="1.8"/><circle cx="983.1" cy="463.8" r="1.8"/><circle cx="985.6" cy="463.8" r="1.8"/><circle cx="988.8" cy="465.0" r="1.8"/><circle cx="991.2" cy="466.2" r="1.8"/><circle cx="980.0" cy="467.5" r="1.8"/><circle cx="981.9" cy="468.8" r="1.8"/><circle cx="984.4" cy="468.1" r="1.8"/><circle cx="987.5" cy="468.1" r="1.8"/><circle cx="990.6" cy="469.4" r="1.8"/><circle cx="980.6" cy="470.6" r="1.8"/><circle cx="983.1" cy="475.0" r="1.8"/><circle cx="1001.2" cy="335.1" r="1.8"/><circle cx="1004.1" cy="336.3" r="1.8"/><circle cx="1007.4" cy="335.5" r="1.8"/><circle cx="1011.6" cy="343.5" r="1.8"/><circle cx="1014.5" cy="343.3" r="1.8"/><circle cx="1012.0" cy="345.0" r="1.8"/><circle cx="1019.3" cy="346.2" r="1.8"/><circle cx="1021.2" cy="344.0" r="1.8"/><circle cx="1019.0" cy="348.4" r="1.8"/><circle cx="1029.6" cy="345.9" r="1.8"/><circle cx="1032.0" cy="347.6" r="1.8"/><circle cx="1038.1" cy="350.2" r="1.8"/><circle cx="1041.0" cy="349.2" r="1.8"/><circle cx="1037.6" cy="353.2" r="1.8"/><circle cx="1045.5" cy="354.0" r="1.8"/><circle cx="1042.4" cy="356.4" r="1.8"/><circle cx="1041.0" cy="360.4" r="1.8"/><circle cx="1051.5" cy="360.0" r="1.8"/><circle cx="1051.0" cy="364.4" r="1.8"/><circle cx="1048.3" cy="366.4" r="1.8"/><circle cx="1055.2" cy="365.9" r="1.8"/><circle cx="1048.0" cy="367.7" r="1.8"/><circle cx="1035.5" cy="366.0" r="1.8"/><circle cx="1037.8" cy="365.1" r="1.8"/><circle cx="1000.1" cy="352.6" r="1.8"/><circle cx="1009.0" cy="360.5" r="1.8"/><circle cx="1010.5" cy="361.3" r="1.8"/><circle cx="1011.4" cy="364.5" r="1.8"/><circle cx="1012.4" cy="365.0" r="1.8"/><circle cx="1015.9" cy="365.2" r="1.8"/><circle cx="1014.6" cy="367.7" r="1.8"/><circle cx="1011.7" cy="369.6" r="1.8"/><circle cx="1010.3" cy="373.3" r="1.8"/><circle cx="969.2" cy="365.3" r="1.8"/><circle cx="972.1" cy="367.5" r="1.8"/><circle cx="986.5" cy="365.7" r="1.8"/><circle cx="982.8" cy="368.5" r="1.8"/><circle cx="972.7" cy="372.0" r="1.8"/><circle cx="977.0" cy="375.8" r="1.8"/><circle cx="974.8" cy="374.6" r="1.8"/><circle cx="985.5" cy="377.3" r="1.8"/><circle cx="986.8" cy="378.0" r="1.8"/><circle cx="981.1" cy="379.9" r="1.8"/><circle cx="983.0" cy="381.9" r="1.8"/><circle cx="981.9" cy="383.5" r="1.8"/><circle cx="956.5" cy="373.0" r="1.8"/><circle cx="957.9" cy="373.9" r="1.8"/><circle cx="957.9" cy="375.3" r="1.8"/><circle cx="958.8" cy="380.7" r="1.8"/><circle cx="962.3" cy="379.0" r="1.8"/><circle cx="964.1" cy="378.7" r="1.8"/><circle cx="997.9" cy="379.4" r="1.8"/><circle cx="998.3" cy="382.1" r="1.8"/><circle cx="1001.2" cy="385.6" r="1.8"/><circle cx="1002.4" cy="387.4" r="1.8"/><circle cx="999.9" cy="388.5" r="1.8"/><circle cx="968.0" cy="394.3" r="1.8"/><circle cx="966.2" cy="395.9" r="1.8"/><circle cx="1032.3" cy="374.4" r="1.8"/><circle cx="1032.4" cy="375.6" r="1.8"/><circle cx="1035.4" cy="375.6" r="1.8"/><circle cx="1024.9" cy="378.0" r="1.8"/><circle cx="1027.8" cy="380.2" r="1.8"/><circle cx="1035.7" cy="379.2" r="1.8"/><circle cx="1031.8" cy="379.6" r="1.8"/><circle cx="1026.1" cy="382.9" r="1.8"/><circle cx="1026.0" cy="385.5" r="1.8"/><circle cx="1031.8" cy="383.5" r="1.8"/><circle cx="1033.5" cy="387.3" r="1.8"/><circle cx="1037.6" cy="386.8" r="1.8"/><circle cx="1021.7" cy="386.8" r="1.8"/><circle cx="1023.4" cy="387.8" r="1.8"/><circle cx="1035.2" cy="389.9" r="1.8"/><circle cx="1031.4" cy="390.6" r="1.8"/><circle cx="1020.6" cy="393.3" r="1.8"/><circle cx="1041.4" cy="395.1" r="1.8"/><circle cx="1023.3" cy="396.3" r="1.8"/><circle cx="979.5" cy="403.2" r="1.8"/><circle cx="976.9" cy="403.7" r="1.8"/><circle cx="965.2" cy="404.3" r="1.8"/><circle cx="974.9" cy="410.0" r="1.8"/><circle cx="972.1" cy="413.4" r="1.8"/><circle cx="969.6" cy="412.9" r="1.8"/><circle cx="958.3" cy="409.9" r="1.8"/><circle cx="959.0" cy="411.2" r="1.8"/><circle cx="1003.5" cy="411.3" r="1.8"/><circle cx="1003.8" cy="412.2" r="1.8"/><circle cx="1010.8" cy="414.9" r="1.8"/><circle cx="1012.3" cy="416.9" r="1.8"/><circle cx="1016.3" cy="416.6" r="1.8"/><circle cx="1018.9" cy="417.7" r="1.8"/><circle cx="993.9" cy="416.7" r="1.8"/><circle cx="992.9" cy="419.9" r="1.8"/><circle cx="1018.1" cy="423.4" r="1.8"/><circle cx="1015.9" cy="424.6" r="1.8"/><circle cx="951.3" cy="420.1" r="1.8"/><circle cx="951.2" cy="424.3" r="1.8"/><circle cx="956.8" cy="426.5" r="1.8"/><circle cx="950.1" cy="426.1" r="1.8"/><circle cx="952.7" cy="431.3" r="1.8"/><circle cx="979.7" cy="421.1" r="1.8"/><circle cx="1005.8" cy="427.7" r="1.8"/><circle cx="1006.1" cy="430.9" r="1.8"/><circle cx="1008.3" cy="430.7" r="1.8"/><circle cx="1013.9" cy="432.6" r="1.8"/><circle cx="1027.8" cy="421.1" r="1.8"/><circle cx="1025.0" cy="424.7" r="1.8"/><circle cx="1031.3" cy="423.5" r="1.8"/><circle cx="979.1" cy="430.9" r="1.8"/><circle cx="970.4" cy="431.9" r="1.8"/><circle cx="977.1" cy="434.0" r="1.8"/><circle cx="968.4" cy="435.9" r="1.8"/><circle cx="976.1" cy="435.6" r="1.8"/><circle cx="991.0" cy="431.1" r="1.8"/><circle cx="997.3" cy="436.3" r="1.8"/><circle cx="1010.2" cy="437.3" r="1.8"/><circle cx="1014.2" cy="437.1" r="1.8"/><circle cx="1015.8" cy="442.0" r="1.8"/><circle cx="1015.9" cy="441.4" r="1.8"/><circle cx="981.4" cy="439.2" r="1.8"/><circle cx="978.4" cy="442.1" r="1.8"/><circle cx="975.8" cy="442.8" r="1.8"/><circle cx="962.8" cy="439.2" r="1.8"/><circle cx="965.6" cy="449.8" r="1.8"/><circle cx="964.1" cy="451.2" r="1.8"/><circle cx="960.3" cy="452.3" r="1.8"/><circle cx="945.0" cy="448.0" r="1.8"/><circle cx="948.2" cy="449.7" r="1.8"/><circle cx="947.3" cy="450.3" r="1.8"/><circle cx="984.0" cy="451.8" r="1.8"/><circle cx="986.1" cy="449.2" r="1.8"/><circle cx="989.6" cy="450.6" r="1.8"/><circle cx="987.5" cy="451.8" r="1.8"/><circle cx="990.3" cy="452.4" r="1.8"/><circle cx="994.6" cy="455.9" r="1.8"/><circle cx="996.3" cy="458.6" r="1.8"/><circle cx="988.6" cy="459.2" r="1.8"/><circle cx="949.5" cy="456.9" r="1.8"/><circle cx="951.5" cy="455.4" r="1.8"/><circle cx="946.0" cy="460.0" r="1.8"/><circle cx="943.7" cy="461.7" r="1.8"/><circle cx="946.9" cy="462.4" r="1.8"/><circle cx="972.9" cy="457.0" r="1.8"/><circle cx="969.2" cy="460.3" r="1.8"/><circle cx="969.8" cy="462.9" r="1.8"/><circle cx="981.6" cy="461.3" r="1.8"/><circle cx="985.0" cy="463.4" r="1.8"/><circle cx="943.5" cy="462.0" r="1.8"/><circle cx="945.2" cy="464.0" r="1.8"/><circle cx="952.0" cy="468.3" r="1.8"/><circle cx="956.4" cy="466.4" r="1.8"/><circle cx="968.1" cy="464.2" r="1.8"/><circle cx="966.5" cy="463.2" r="1.8"/><circle cx="983.0" cy="463.1" r="1.8"/><circle cx="988.6" cy="464.3" r="1.8"/><circle cx="980.8" cy="468.0" r="1.8"/><circle cx="983.6" cy="468.7" r="1.8"/><circle cx="988.0" cy="468.5" r="1.8"/><circle cx="991.2" cy="469.9" r="1.8"/><circle cx="981.3" cy="470.3" r="1.8"/>
</g>
<g fill="#0000F5">
<circle cx="948.1" cy="297.9" r="1.8"/><circle cx="950.0" cy="299.1" r="1.8"/><circle cx="951.9" cy="297.2" r="1.8"/><circle cx="953.8" cy="298.5" r="1.8"/><circle cx="955.0" cy="296.2" r="1.8"/><circle cx="956.9" cy="297.5" r="1.8"/><circle cx="958.8" cy="295.8" r="1.8"/><circle cx="960.6" cy="296.6" r="1.8"/><circle cx="962.5" cy="295.0" r="1.8"/><circle cx="949.4" cy="296.6" r="1.8"/><circle cx="953.1" cy="300.0" r="1.8"/><circle cx="951.2" cy="298.5" r="1.8"/><circle cx="957.5" cy="296.6" r="1.8"/><circle cx="897.5" cy="315.4" r="1.8"/><circle cx="899.4" cy="317.2" r="1.8"/><circle cx="898.8" cy="314.1" r="1.8"/><circle cx="900.6" cy="319.1" r="1.8"/><circle cx="902.5" cy="320.4" r="1.8"/><circle cx="901.9" cy="322.2" r="1.8"/><circle cx="904.4" cy="321.6" r="1.8"/><circle cx="905.0" cy="324.1" r="1.8"/><circle cx="906.9" cy="325.4" r="1.8"/><circle cx="908.1" cy="327.9" r="1.8"/><circle cx="910.0" cy="329.1" r="1.8"/><circle cx="911.9" cy="330.4" r="1.8"/><circle cx="900.0" cy="327.9" r="1.8"/><circle cx="903.1" cy="323.5" r="1.8"/><circle cx="906.2" cy="327.2" r="1.8"/><circle cx="946.2" cy="329.8" r="1.8"/><circle cx="948.1" cy="331.6" r="1.8"/><circle cx="950.0" cy="332.9" r="1.8"/><circle cx="951.9" cy="334.1" r="1.8"/><circle cx="953.8" cy="333.5" r="1.8"/><circle cx="955.6" cy="334.1" r="1.8"/><circle cx="957.5" cy="333.5" r="1.8"/><circle cx="959.4" cy="332.2" r="1.8"/><circle cx="960.6" cy="331.0" r="1.8"/><circle cx="949.4" cy="330.4" r="1.8"/><circle cx="955.0" cy="331.6" r="1.8"/><circle cx="946.2" cy="337.2" r="1.8"/><circle cx="951.2" cy="331.6" r="1.8"/><circle cx="956.9" cy="332.0" r="1.8"/><circle cx="905.6" cy="346.6" r="1.8"/><circle cx="903.8" cy="345.8" r="1.8"/><circle cx="901.2" cy="347.2" r="1.8"/><circle cx="898.8" cy="349.1" r="1.8"/><circle cx="896.2" cy="348.5" r="1.8"/><circle cx="960.0" cy="456.0" r="1.8"/><circle cx="959.4" cy="457.5" r="1.8"/><circle cx="958.8" cy="459.4" r="1.8"/><circle cx="811.9" cy="385.0" r="1.8"/><circle cx="814.4" cy="384.4" r="1.8"/><circle cx="816.9" cy="383.1" r="1.8"/><circle cx="815.6" cy="386.2" r="1.8"/><circle cx="818.1" cy="385.6" r="1.8"/><circle cx="820.6" cy="385.6" r="1.8"/><circle cx="823.1" cy="385.6" r="1.8"/><circle cx="825.0" cy="385.6" r="1.8"/><circle cx="816.9" cy="388.1" r="1.8"/><circle cx="819.4" cy="388.1" r="1.8"/><circle cx="817.5" cy="390.0" r="1.8"/><circle cx="821.2" cy="390.6" r="1.8"/><circle cx="826.2" cy="388.1" r="1.8"/><circle cx="828.1" cy="390.0" r="1.8"/><circle cx="830.0" cy="390.6" r="1.8"/><circle cx="825.6" cy="390.0" r="1.8"/><circle cx="813.8" cy="386.2" r="1.8"/><circle cx="859.4" cy="360.6" r="1.8"/><circle cx="861.9" cy="360.0" r="1.8"/><circle cx="864.4" cy="360.6" r="1.8"/><circle cx="867.5" cy="360.6" r="1.8"/><circle cx="875.0" cy="360.6" r="1.8"/><circle cx="878.1" cy="360.0" r="1.8"/><circle cx="880.6" cy="360.6" r="1.8"/><circle cx="863.1" cy="363.1" r="1.8"/><circle cx="865.0" cy="364.4" r="1.8"/><circle cx="867.5" cy="363.5" r="1.8"/><circle cx="876.9" cy="363.5" r="1.8"/><circle cx="903.1" cy="373.8" r="1.8"/><circle cx="905.0" cy="374.8" r="1.8"/><circle cx="907.5" cy="374.8" r="1.8"/><circle cx="915.0" cy="376.2" r="1.8"/><circle cx="916.9" cy="375.6" r="1.8"/><circle cx="918.1" cy="377.2" r="1.8"/><circle cx="916.2" cy="377.5" r="1.8"/><circle cx="905.0" cy="383.8" r="1.8"/><circle cx="906.9" cy="385.0" r="1.8"/><circle cx="905.6" cy="385.6" r="1.8"/><circle cx="908.1" cy="384.4" r="1.8"/><circle cx="913.1" cy="384.4" r="1.8"/><circle cx="915.0" cy="383.5" r="1.8"/><circle cx="916.9" cy="384.0" r="1.8"/><circle cx="913.8" cy="385.2" r="1.8"/><circle cx="891.9" cy="397.5" r="1.8"/><circle cx="893.8" cy="398.8" r="1.8"/><circle cx="890.0" cy="398.8" r="1.8"/><circle cx="887.5" cy="399.8" r="1.8"/><circle cx="888.8" cy="401.0" r="1.8"/><circle cx="890.6" cy="401.2" r="1.8"/><circle cx="887.2" cy="405.6" r="1.8"/><circle cx="885.4" cy="407.2" r="1.8"/><circle cx="882.2" cy="410.0" r="1.8"/><circle cx="902.5" cy="405.6" r="1.8"/><circle cx="905.0" cy="405.6" r="1.8"/><circle cx="901.2" cy="407.5" r="1.8"/><circle cx="903.8" cy="407.5" r="1.8"/><circle cx="902.8" cy="409.4" r="1.8"/><circle cx="903.1" cy="411.9" r="1.8"/><circle cx="891.9" cy="416.2" r="1.8"/><circle cx="893.8" cy="416.2" r="1.8"/><circle cx="893.1" cy="417.5" r="1.8"/><circle cx="895.2" cy="418.1" r="1.8"/><circle cx="895.0" cy="419.4" r="1.8"/><circle cx="855.0" cy="410.6" r="1.8"/><circle cx="853.8" cy="413.1" r="1.8"/><circle cx="856.2" cy="413.1" r="1.8"/><circle cx="858.1" cy="413.8" r="1.8"/><circle cx="860.0" cy="414.8" r="1.8"/><circle cx="861.9" cy="415.6" r="1.8"/><circle cx="863.8" cy="416.2" r="1.8"/><circle cx="865.0" cy="417.5" r="1.8"/><circle cx="863.1" cy="417.5" r="1.8"/><circle cx="858.8" cy="415.6" r="1.8"/><circle cx="855.6" cy="415.0" r="1.8"/><circle cx="856.9" cy="420.6" r="1.8"/><circle cx="843.4" cy="423.8" r="1.8"/><circle cx="838.1" cy="430.6" r="1.8"/><circle cx="836.2" cy="431.2" r="1.8"/><circle cx="835.0" cy="432.5" r="1.8"/><circle cx="837.5" cy="432.5" r="1.8"/><circle cx="834.0" cy="433.5" r="1.8"/><circle cx="836.2" cy="433.5" r="1.8"/><circle cx="844.0" cy="432.5" r="1.8"/><circle cx="886.6" cy="441.2" r="1.8"/><circle cx="883.1" cy="445.6" r="1.8"/><circle cx="885.0" cy="446.2" r="1.8"/><circle cx="886.9" cy="447.2" r="1.8"/><circle cx="888.8" cy="448.1" r="1.8"/><circle cx="890.6" cy="448.8" r="1.8"/><circle cx="892.5" cy="449.8" r="1.8"/><circle cx="894.4" cy="448.1" r="1.8"/><circle cx="895.0" cy="451.2" r="1.8"/><circle cx="896.9" cy="452.5" r="1.8"/><circle cx="898.8" cy="452.5" r="1.8"/><circle cx="895.6" cy="454.4" r="1.8"/><circle cx="893.8" cy="455.6" r="1.8"/><circle cx="883.8" cy="447.2" r="1.8"/><circle cx="890.0" cy="450.0" r="1.8"/><circle cx="947.1" cy="297.5" r="1.8"/><circle cx="949.1" cy="299.1" r="1.8"/><circle cx="951.0" cy="297.2" r="1.8"/><circle cx="954.3" cy="298.9" r="1.8"/><circle cx="955.3" cy="295.4" r="1.8"/><circle cx="957.9" cy="297.4" r="1.8"/><circle cx="958.3" cy="295.4" r="1.8"/><circle cx="960.1" cy="296.5" r="1.8"/><circle cx="962.5" cy="295.5" r="1.8"/><circle cx="948.4" cy="297.0" r="1.8"/><circle cx="952.6" cy="299.4" r="1.8"/><circle cx="950.6" cy="298.7" r="1.8"/><circle cx="958.5" cy="296.6" r="1.8"/><circle cx="897.2" cy="316.0" r="1.8"/><circle cx="900.2" cy="317.7" r="1.8"/><circle cx="899.2" cy="313.5" r="1.8"/><circle cx="900.9" cy="318.7" r="1.8"/><circle cx="903.2" cy="320.0" r="1.8"/><circle cx="901.4" cy="322.6" r="1.8"/><circle cx="904.5" cy="321.0" r="1.8"/><circle cx="904.5" cy="325.1" r="1.8"/><circle cx="907.4" cy="325.8" r="1.8"/><circle cx="909.0" cy="328.2" r="1.8"/><circle cx="909.3" cy="328.8" r="1.8"/><circle cx="911.8" cy="329.8" r="1.8"/><circle cx="902.6" cy="323.8" r="1.8"/><circle cx="907.2" cy="327.1" r="1.8"/><circle cx="946.7" cy="329.3" r="1.8"/><circle cx="948.7" cy="330.9" r="1.8"/><circle cx="950.6" cy="332.8" r="1.8"/><circle cx="952.0" cy="333.4" r="1.8"/><circle cx="954.2" cy="333.7" r="1.8"/><circle cx="955.7" cy="335.0" r="1.8"/><circle cx="956.5" cy="333.8" r="1.8"/><circle cx="958.5" cy="331.8" r="1.8"/><circle cx="961.2" cy="331.9" r="1.8"/><circle cx="949.4" cy="331.0" r="1.8"/><circle cx="955.6" cy="331.4" r="1.8"/><circle cx="950.7" cy="331.2" r="1.8"/><circle cx="957.9" cy="332.3" r="1.8"/><circle cx="905.4" cy="346.0" r="1.8"/><circle cx="903.2" cy="345.4" r="1.8"/><circle cx="901.1" cy="346.7" r="1.8"/><circle cx="897.8" cy="348.8" r="1.8"/><circle cx="896.1" cy="349.5" r="1.8"/><circle cx="960.6" cy="455.2" r="1.8"/><circle cx="959.3" cy="458.4" r="1.8"/><circle cx="958.0" cy="459.5" r="1.8"/><circle cx="812.2" cy="384.3" r="1.8"/><circle cx="813.9" cy="384.6" r="1.8"/><circle cx="816.5" cy="382.1" r="1.8"/><circle cx="815.2" cy="385.5" r="1.8"/><circle cx="817.8" cy="386.2" r="1.8"/><circle cx="821.2" cy="386.1" r="1.8"/><circle cx="823.4" cy="384.7" r="1.8"/><circle cx="825.5" cy="386.4" r="1.8"/><circle cx="816.2" cy="387.9" r="1.8"/><circle cx="820.0" cy="388.8" r="1.8"/><circle cx="816.6" cy="389.9" r="1.8"/><circle cx="821.6" cy="391.6" r="1.8"/><circle cx="826.4" cy="388.6" r="1.8"/><circle cx="827.3" cy="389.6" r="1.8"/><circle cx="830.6" cy="390.3" r="1.8"/><circle cx="826.4" cy="390.8" r="1.8"/><circle cx="814.4" cy="385.8" r="1.8"/><circle cx="858.8" cy="360.4" r="1.8"/><circle cx="862.9" cy="360.0" r="1.8"/><circle cx="865.1" cy="361.3" r="1.8"/><circle cx="868.0" cy="360.2" r="1.8"/><circle cx="875.3" cy="360.1" r="1.8"/><circle cx="878.6" cy="360.2" r="1.8"/><circle cx="881.7" cy="360.5" r="1.8"/><circle cx="862.8" cy="364.0" r="1.8"/><circle cx="864.4" cy="365.0" r="1.8"/><circle cx="868.1" cy="363.6" r="1.8"/><circle cx="902.5" cy="374.3" r="1.8"/><circle cx="904.3" cy="374.7" r="1.8"/><circle cx="907.1" cy="375.5" r="1.8"/><circle cx="914.7" cy="375.7" r="1.8"/><circle cx="916.2" cy="375.2" r="1.8"/><circle cx="917.5" cy="376.6" r="1.8"/><circle cx="916.3" cy="376.7" r="1.8"/><circle cx="905.5" cy="382.9" r="1.8"/><circle cx="906.1" cy="385.3" r="1.8"/><circle cx="904.8" cy="385.5" r="1.8"/><circle cx="908.7" cy="384.0" r="1.8"/><circle cx="913.0" cy="383.3" r="1.8"/><circle cx="914.2" cy="383.0" r="1.8"/><circle cx="916.4" cy="383.7" r="1.8"/><circle cx="913.0" cy="385.5" r="1.8"/><circle cx="892.7" cy="397.8" r="1.8"/><circle cx="893.8" cy="399.4" r="1.8"/><circle cx="890.0" cy="399.3" r="1.8"/><circle cx="888.4" cy="399.6" r="1.8"/><circle cx="887.9" cy="401.5" r="1.8"/><circle cx="890.6" cy="400.4" r="1.8"/><circle cx="888.0" cy="406.2" r="1.8"/><circle cx="884.3" cy="407.0" r="1.8"/><circle cx="902.3" cy="406.3" r="1.8"/><circle cx="905.8" cy="405.0" r="1.8"/><circle cx="900.7" cy="408.2" r="1.8"/><circle cx="904.8" cy="407.7" r="1.8"/><circle cx="901.7" cy="409.4" r="1.8"/><circle cx="902.5" cy="412.0" r="1.8"/><circle cx="892.8" cy="415.8" r="1.8"/><circle cx="894.1" cy="415.6" r="1.8"/><circle cx="893.6" cy="418.4" r="1.8"/><circle cx="895.5" cy="419.0" r="1.8"/><circle cx="895.4" cy="419.0" r="1.8"/><circle cx="854.9" cy="409.9" r="1.8"/><circle cx="854.4" cy="412.4" r="1.8"/><circle cx="855.9" cy="412.1" r="1.8"/><circle cx="858.7" cy="414.1" r="1.8"/><circle cx="859.8" cy="414.2" r="1.8"/><circle cx="862.0" cy="416.5" r="1.8"/><circle cx="863.1" cy="416.9" r="1.8"/><circle cx="864.5" cy="417.2" r="1.8"/><circle cx="863.9" cy="417.1" r="1.8"/><circle cx="858.4" cy="415.2" r="1.8"/><circle cx="854.9" cy="415.3" r="1.8"/><circle cx="838.0" cy="431.3" r="1.8"/><circle cx="836.8" cy="431.6" r="1.8"/><circle cx="835.0" cy="433.2" r="1.8"/><circle cx="837.9" cy="433.5" r="1.8"/><circle cx="834.8" cy="433.7" r="1.8"/><circle cx="835.5" cy="434.2" r="1.8"/><circle cx="882.7" cy="445.1" r="1.8"/><circle cx="885.2" cy="445.5" r="1.8"/><circle cx="887.4" cy="446.5" r="1.8"/><circle cx="889.3" cy="447.9" r="1.8"/><circle cx="891.1" cy="449.5" r="1.8"/><circle cx="891.6" cy="450.1" r="1.8"/><circle cx="894.5" cy="447.5" r="1.8"/><circle cx="895.2" cy="452.1" r="1.8"/><circle cx="897.7" cy="452.7" r="1.8"/><circle cx="897.8" cy="452.0" r="1.8"/><circle cx="895.9" cy="454.8" r="1.8"/><circle cx="893.0" cy="455.9" r="1.8"/><circle cx="883.9" cy="446.7" r="1.8"/><circle cx="889.3" cy="449.7" r="1.8"/>
</g>
</g>
<rect x="799.7" y="285.95" width="271.70" height="198.25" fill="none" stroke="#000" stroke-opacity="0.6" stroke-width="0.75"/>
<path d="M801.4 484.2v2.5M841.85 484.2v2.5M882.3 484.2v2.5M922.75 484.2v2.5M963.2 484.2v2.5M1003.65 484.2v2.5M1044.1 484.2v2.5M799.7 483.3h-2.5M799.7 453.62h-2.5M799.7 423.93h-2.5M799.7 394.25h-2.5M799.7 364.57h-2.5M799.7 334.88h-2.5M799.7 305.2h-2.5" stroke="#000" stroke-opacity="0.65" stroke-width="0.75" fill="none"/>
<text class="tick" transform="translate(801.07 493.35) scale(0.01700 0.02000)" text-anchor="middle" font-size="375.00">−80</text>
<text class="tick" transform="translate(841.52 493.35) scale(0.01700 0.02000)" text-anchor="middle" font-size="375.00">−60</text>
<text class="tick" transform="translate(881.97 493.35) scale(0.01700 0.02000)" text-anchor="middle" font-size="375.00">−40</text>
<text class="tick" transform="translate(922.42 493.35) scale(0.01700 0.02000)" text-anchor="middle" font-size="375.00">−20</text>
<text class="tick" transform="translate(962.87 493.35) scale(0.01700 0.02000)" text-anchor="middle" font-size="375.00">0</text>
<text class="tick" transform="translate(1003.32 493.35) scale(0.01700 0.02000)" text-anchor="middle" font-size="375.00">20</text>
<text class="tick" transform="translate(1043.77 493.35) scale(0.01700 0.02000)" text-anchor="middle" font-size="375.00">40</text>
<text class="tick" transform="translate(794.63 486.00) scale(0.01700 0.02000)" text-anchor="end" font-size="375.00">−60</text>
<text class="tick" transform="translate(794.63 456.32) scale(0.01700 0.02000)" text-anchor="end" font-size="375.00">−40</text>
<text class="tick" transform="translate(794.63 426.63) scale(0.01700 0.02000)" text-anchor="end" font-size="375.00">−20</text>
<text class="tick" transform="translate(794.63 396.95) scale(0.01700 0.02000)" text-anchor="end" font-size="375.00">0</text>
<text class="tick" transform="translate(794.63 367.27) scale(0.01700 0.02000)" text-anchor="end" font-size="375.00">20</text>
<text class="tick" transform="translate(794.63 337.58) scale(0.01700 0.02000)" text-anchor="end" font-size="375.00">40</text>
<text class="tick" transform="translate(794.63 307.90) scale(0.01700 0.02000)" text-anchor="end" font-size="375.00">60</text>
<text class="lab" transform="translate(935.35 508.10) scale(0.01900 0.02000)" text-anchor="middle" font-size="775.00">X-tSNE</text>
<text class="lab" transform="translate(776.60 385.27) rotate(-90) scale(0.01900 0.02000)" text-anchor="middle" font-size="775.00">Y-tSNE</text>
<rect x="807.3" y="293.6" width="169.40" height="69.10" rx="2.2" fill="#fff" fill-opacity="0.8" stroke="#ccc" stroke-opacity="0.8" stroke-width="0.6"/>
<circle cx="827.67" cy="306.45" r="1.8" fill="#EA3323"/>
<text class="leg" transform="translate(853.77 309.40) scale(0.02000 0.02000)" font-size="731.00">original graph</text>
<circle cx="827.67" cy="328.30" r="1.8" fill="#377D22"/>
<text class="leg" transform="translate(853.77 331.25) scale(0.02000 0.02000)" font-size="731.00">mix explanation</text>
<circle cx="827.67" cy="350.15" r="1.8" fill="#0000F5"/>
<text class="leg" transform="translate(853.77 353.10) scale(0.02000 0.02000)" font-size="731.00">ground truth</text>
<text class="cap" transform="translate(890.40 542.30) scale(0.01959 0.02000)" font-size="910.00">(f) MUTAG</text>
</g>
</svg>
</body>
</html>
